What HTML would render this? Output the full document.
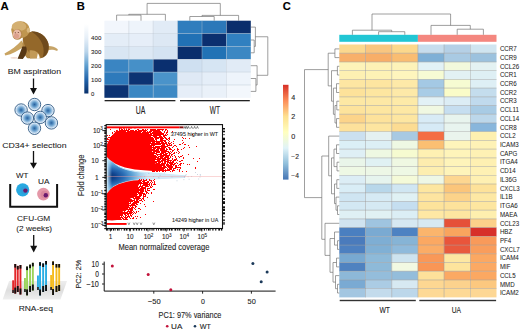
<!DOCTYPE html>
<html><head><meta charset="utf-8"><style>
html,body{margin:0;padding:0;background:#fff;overflow:hidden;width:520px;height:331px;}
svg{display:block;font-family:"Liberation Sans", sans-serif;}
</style></head><body>
<svg width="520" height="331" viewBox="0 0 520 331" font-family='"Liberation Sans", sans-serif'>
<rect width="520" height="331" fill="#fff"/>
<text x="0.6" y="9.7" font-size="11.4" stroke="#000" stroke-width="0.12" font-weight="bold" fill="#000" >A</text>
<g id="monkey">
<path d="M45.5,46.5 C50,45.5 54,46.5 57.8,49.3 L57.3,51 C53,49.3 50,49.5 46,50.8 Z" fill="#c6a468"/>
<path d="M21.5,40.5 C17,45.5 11,50.5 4.5,53.4 L5.3,55.6 C12,54.3 18.5,50.5 24.5,46 Z" fill="#c9a462"/>
<path d="M23,36 C26.5,31 34,30.5 40.5,33.5 C46,36.5 49.2,42.5 48.8,48.5 C48.4,54 45,57.6 40,58.3 L28,58.3 C24,55 22,48 23,36 Z" fill="#94682a"/>
<path d="M31,31.3 C39,31 46,36 48.3,43 C49.5,49 47.5,55 42.5,57.8 C45.5,50 43.5,39 31,31.3 Z" fill="#6f4a1c"/>
<path d="M23.2,40 C24.5,47 28,52.5 34,56 L27.5,58.3 C23.8,55 22.2,48.5 23.2,40 Z" fill="#b08646"/>
<path d="M29.5,50.5 C34.5,49.5 39.5,52.5 40.5,58.3 L30,58.6 Z" fill="#c29a58"/>
<path d="M37.8,53.2 C39,55 39.6,56.8 39.6,58.8 L36.8,58.8 Z" fill="#fff"/>
<path d="M26,46.5 C28,50.5 26.2,55 22.8,59 L17.6,58.8 C19,55.5 21,50.5 22.3,46.5 Z" fill="#563614"/>
<ellipse cx="20.5" cy="29.7" rx="9.3" ry="8.5" fill="#c0964f"/>
<ellipse cx="19" cy="26.4" rx="7.2" ry="4.9" fill="#d4b072"/>
<ellipse cx="28.4" cy="30.2" rx="1.7" ry="2.5" fill="#d8b880"/>
<ellipse cx="17.4" cy="34.4" rx="5" ry="5.4" fill="#b88c4e"/>
<ellipse cx="17" cy="34.3" rx="4.1" ry="4.7" fill="#e9bba5"/>
<ellipse cx="16.4" cy="36" rx="2.6" ry="2.6" fill="#dca08c"/>
<circle cx="15.3" cy="32.7" r="0.55" fill="#5a3020"/>
<circle cx="18.3" cy="32.5" r="0.55" fill="#5a3020"/>
<ellipse cx="14" cy="57.8" rx="3.5" ry="0.9" fill="#e8c8b8" opacity="0.7"/>
</g>
<text x="34.4" y="74" font-size="7.7" stroke="#1a1a1a" stroke-width="0.06" text-anchor="middle" textLength="53.2" lengthAdjust="spacingAndGlyphs" fill="#1a1a1a" >BM aspiration</text>
<line x1="33.5" y1="78.5" x2="33.5" y2="88.5" stroke="#111" stroke-width="1.3"/>
<path d="M30.0,88 L37.0,88 L33.5,94.4 Z" fill="#111"/>
<defs><radialGradient id="cell" cx="50%" cy="50%" r="50%">
<stop offset="0" stop-color="#2a62a0"/><stop offset="0.35" stop-color="#5f98c8"/>
<stop offset="0.7" stop-color="#b2d0ea"/><stop offset="0.87" stop-color="#e2edf8"/><stop offset="1" stop-color="#eef5fb"/></radialGradient></defs>
<circle cx="34.5" cy="104.5" r="6.2" fill="url(#cell)" stroke="#25527e" stroke-width="0.85"/>
<circle cx="21.1" cy="110" r="6.2" fill="url(#cell)" stroke="#25527e" stroke-width="0.85"/>
<circle cx="48" cy="110.6" r="6.2" fill="url(#cell)" stroke="#25527e" stroke-width="0.85"/>
<circle cx="27.4" cy="118.1" r="6.2" fill="url(#cell)" stroke="#25527e" stroke-width="0.85"/>
<circle cx="40.2" cy="117.4" r="6.2" fill="url(#cell)" stroke="#25527e" stroke-width="0.85"/>
<circle cx="51.4" cy="122.9" r="6.2" fill="url(#cell)" stroke="#25527e" stroke-width="0.85"/>
<circle cx="34.5" cy="128.3" r="6.2" fill="url(#cell)" stroke="#25527e" stroke-width="0.85"/>
<text x="34.4" y="148" font-size="7.7" stroke="#1a1a1a" stroke-width="0.06" text-anchor="middle" textLength="64.3" lengthAdjust="spacingAndGlyphs" fill="#1a1a1a" >CD34+ selection</text>
<line x1="33.5" y1="151" x2="33.5" y2="163.2" stroke="#111" stroke-width="1.3"/>
<path d="M30.0,162.7 L37.0,162.7 L33.5,168.8 Z" fill="#111"/>
<text x="22.2" y="177.8" font-size="7.5" stroke="#1a1a1a" stroke-width="0.06" text-anchor="middle" textLength="12.4" lengthAdjust="spacingAndGlyphs" fill="#1a1a1a" >WT</text>
<text x="43.8" y="183.6" font-size="7.5" stroke="#1a1a1a" stroke-width="0.06" text-anchor="middle" textLength="11.5" lengthAdjust="spacingAndGlyphs" fill="#1a1a1a" >UA</text>
<path d="M10.2,184 V206.8 H57.1 V184" fill="none" stroke="#111" stroke-width="2"/>
<circle cx="22.7" cy="189.8" r="6.6" fill="#27a9e1"/>
<circle cx="24.2" cy="190.2" r="3.6" fill="#3b8fd0" opacity="0.5"/>
<circle cx="25.4" cy="190.6" r="2.2" fill="#6a1a6e"/>
<circle cx="43.4" cy="194.1" r="6.3" fill="#e498a8"/>
<circle cx="44.5" cy="194.6" r="3.8" fill="#d27c96" opacity="0.6"/>
<circle cx="45.8" cy="195.2" r="2.2" fill="#6a1a6e"/>
<text x="33.7" y="221.3" font-size="7.5" stroke="#1a1a1a" stroke-width="0.06" text-anchor="middle" textLength="33.2" lengthAdjust="spacingAndGlyphs" fill="#1a1a1a" >CFU-GM</text>
<text x="34.2" y="231.4" font-size="7.5" stroke="#1a1a1a" stroke-width="0.06" text-anchor="middle" textLength="35.8" lengthAdjust="spacingAndGlyphs" fill="#1a1a1a" >(2 weeks)</text>
<line x1="33.7" y1="235" x2="33.7" y2="246.3" stroke="#111" stroke-width="1.3"/>
<path d="M30.200000000000003,245.8 L37.2,245.8 L33.7,252.6 Z" fill="#111"/>
<defs><linearGradient id="plat" x1="0" y1="0" x2="0" y2="1">
<stop offset="0" stop-color="#eeeeee"/><stop offset="0.5" stop-color="#dedede"/><stop offset="1" stop-color="#efefef"/></linearGradient></defs>
<path d="M9.1,281 L67,281 L60.5,299.6 L2.7,299.6 Z" fill="url(#plat)"/>
<rect x="12.2" y="280.3" width="1.9" height="12.7" fill="#e3262a"/>
<rect x="12.2" y="290.0" width="1.9" height="3" fill="#333"/>
<rect x="14.3" y="264" width="1.9" height="29.6" fill="#e3262a"/>
<rect x="14.3" y="264" width="1.9" height="3.6" fill="#111"/>
<rect x="14.3" y="287.6" width="1.9" height="6" fill="#111"/>
<rect x="16.8" y="265.9" width="1.9" height="26.1" fill="#e3262a"/>
<rect x="16.8" y="265.9" width="1.9" height="3.6" fill="#111"/>
<rect x="16.8" y="286.0" width="1.9" height="6" fill="#111"/>
<rect x="19.5" y="265" width="1.9" height="29.5" fill="#e3262a"/>
<rect x="19.5" y="265" width="1.9" height="3.6" fill="#111"/>
<rect x="19.5" y="288.5" width="1.9" height="6" fill="#111"/>
<rect x="24.0" y="278" width="1.9" height="14.0" fill="#9bd35a"/>
<rect x="24.0" y="289.0" width="1.9" height="3" fill="#333"/>
<rect x="26.1" y="266.5" width="1.9" height="28.9" fill="#9bd35a"/>
<rect x="26.1" y="266.5" width="1.9" height="3.6" fill="#111"/>
<rect x="26.1" y="289.4" width="1.9" height="6" fill="#111"/>
<rect x="29.1" y="264.6" width="1.9" height="27.4" fill="#9bd35a"/>
<rect x="29.1" y="264.6" width="1.9" height="3.6" fill="#111"/>
<rect x="29.1" y="286.0" width="1.9" height="6" fill="#111"/>
<rect x="31.9" y="262.8" width="1.9" height="27.7" fill="#9bd35a"/>
<rect x="31.9" y="262.8" width="1.9" height="3.6" fill="#111"/>
<rect x="31.9" y="284.5" width="1.9" height="6" fill="#111"/>
<rect x="37.0" y="275.5" width="1.9" height="14.5" fill="#2aaee4"/>
<rect x="37.0" y="287.0" width="1.9" height="3" fill="#333"/>
<rect x="39.1" y="262.2" width="1.9" height="33.3" fill="#2aaee4"/>
<rect x="39.1" y="262.2" width="1.9" height="3.6" fill="#111"/>
<rect x="39.1" y="289.5" width="1.9" height="6" fill="#111"/>
<rect x="42.2" y="263.4" width="1.9" height="28.6" fill="#2aaee4"/>
<rect x="42.2" y="263.4" width="1.9" height="3.6" fill="#111"/>
<rect x="42.2" y="286.0" width="1.9" height="6" fill="#111"/>
<rect x="45.1" y="261" width="1.9" height="30.0" fill="#2aaee4"/>
<rect x="45.1" y="261" width="1.9" height="3.6" fill="#111"/>
<rect x="45.1" y="285.0" width="1.9" height="6" fill="#111"/>
<rect x="50.2" y="275" width="1.9" height="15.0" fill="#f5bb1d"/>
<rect x="50.2" y="287.0" width="1.9" height="3" fill="#333"/>
<rect x="52.1" y="261.4" width="1.9" height="33.6" fill="#f5bb1d"/>
<rect x="52.1" y="261.4" width="1.9" height="3.6" fill="#111"/>
<rect x="52.1" y="289.0" width="1.9" height="6" fill="#111"/>
<rect x="55.5" y="264" width="1.9" height="28.0" fill="#f5bb1d"/>
<rect x="55.5" y="264" width="1.9" height="3.6" fill="#111"/>
<rect x="55.5" y="286.0" width="1.9" height="6" fill="#111"/>
<rect x="58.2" y="264" width="1.9" height="27.0" fill="#f5bb1d"/>
<rect x="58.2" y="264" width="1.9" height="3.6" fill="#111"/>
<rect x="58.2" y="285.0" width="1.9" height="6" fill="#111"/>
<text x="35.8" y="310.8" font-size="7.5" stroke="#1a1a1a" stroke-width="0.06" text-anchor="middle" textLength="34.3" lengthAdjust="spacingAndGlyphs" fill="#1a1a1a" >RNA-seq</text>
<text x="76.7" y="10" font-size="11.2" stroke="#000" stroke-width="0.12" font-weight="bold" fill="#000" >B</text>
<rect x="104.40" y="20.70" width="24.40" height="12.85" fill="#f2f6fc"/>
<rect x="128.80" y="20.70" width="24.40" height="12.85" fill="#eef4fb"/>
<rect x="153.20" y="20.70" width="24.40" height="12.85" fill="#e1ebf6"/>
<rect x="177.60" y="20.70" width="24.40" height="12.85" fill="#2f7dbd"/>
<rect x="202.00" y="20.70" width="24.40" height="12.85" fill="#2c78b9"/>
<rect x="226.40" y="20.70" width="24.40" height="12.85" fill="#0a2e6c"/>
<rect x="104.40" y="33.55" width="24.40" height="12.85" fill="#e4edf7"/>
<rect x="128.80" y="33.55" width="24.40" height="12.85" fill="#e6eef8"/>
<rect x="153.20" y="33.55" width="24.40" height="12.85" fill="#dde8f4"/>
<rect x="177.60" y="33.55" width="24.40" height="12.85" fill="#2171b5"/>
<rect x="202.00" y="33.55" width="24.40" height="12.85" fill="#0b2f6f"/>
<rect x="226.40" y="33.55" width="24.40" height="12.85" fill="#3080c0"/>
<rect x="104.40" y="46.40" width="24.40" height="12.85" fill="#d9e6f3"/>
<rect x="128.80" y="46.40" width="24.40" height="12.85" fill="#dce8f4"/>
<rect x="153.20" y="46.40" width="24.40" height="12.85" fill="#d4e3f2"/>
<rect x="177.60" y="46.40" width="24.40" height="12.85" fill="#0a2e6c"/>
<rect x="202.00" y="46.40" width="24.40" height="12.85" fill="#2172b5"/>
<rect x="226.40" y="46.40" width="24.40" height="12.85" fill="#3b87c3"/>
<rect x="104.40" y="59.25" width="24.40" height="12.85" fill="#3a85c2"/>
<rect x="128.80" y="59.25" width="24.40" height="12.85" fill="#4690c8"/>
<rect x="153.20" y="59.25" width="24.40" height="12.85" fill="#0a2f6f"/>
<rect x="177.60" y="59.25" width="24.40" height="12.85" fill="#cfe0f1"/>
<rect x="202.00" y="59.25" width="24.40" height="12.85" fill="#d6e5f3"/>
<rect x="226.40" y="59.25" width="24.40" height="12.85" fill="#e1ebf6"/>
<rect x="104.40" y="72.10" width="24.40" height="12.85" fill="#2e7abb"/>
<rect x="128.80" y="72.10" width="24.40" height="12.85" fill="#0c3373"/>
<rect x="153.20" y="72.10" width="24.40" height="12.85" fill="#4a93ca"/>
<rect x="177.60" y="72.10" width="24.40" height="12.85" fill="#dfe9f5"/>
<rect x="202.00" y="72.10" width="24.40" height="12.85" fill="#e5eef8"/>
<rect x="226.40" y="72.10" width="24.40" height="12.85" fill="#eef4fb"/>
<rect x="104.40" y="84.95" width="24.40" height="12.85" fill="#0c3373"/>
<rect x="128.80" y="84.95" width="24.40" height="12.85" fill="#3a87c3"/>
<rect x="153.20" y="84.95" width="24.40" height="12.85" fill="#3d89c4"/>
<rect x="177.60" y="84.95" width="24.40" height="12.85" fill="#e6eef8"/>
<rect x="202.00" y="84.95" width="24.40" height="12.85" fill="#eaf1f9"/>
<rect x="226.40" y="84.95" width="24.40" height="12.85" fill="#f3f7fc"/>
<line x1="128.80" y1="20.7" x2="128.80" y2="97.80" stroke="#b8c4d0" stroke-width="0.5" opacity="0.8"/>
<line x1="153.20" y1="20.7" x2="153.20" y2="97.80" stroke="#b8c4d0" stroke-width="0.5" opacity="0.8"/>
<line x1="177.60" y1="20.7" x2="177.60" y2="97.80" stroke="#b8c4d0" stroke-width="0.5" opacity="0.8"/>
<line x1="202.00" y1="20.7" x2="202.00" y2="97.80" stroke="#b8c4d0" stroke-width="0.5" opacity="0.8"/>
<line x1="226.40" y1="20.7" x2="226.40" y2="97.80" stroke="#b8c4d0" stroke-width="0.5" opacity="0.8"/>
<line x1="104.4" y1="33.55" x2="250.80" y2="33.55" stroke="#b8c4d0" stroke-width="0.5" opacity="0.8"/>
<line x1="104.4" y1="46.40" x2="250.80" y2="46.40" stroke="#b8c4d0" stroke-width="0.5" opacity="0.8"/>
<line x1="104.4" y1="59.25" x2="250.80" y2="59.25" stroke="#b8c4d0" stroke-width="0.5" opacity="0.8"/>
<line x1="104.4" y1="72.10" x2="250.80" y2="72.10" stroke="#b8c4d0" stroke-width="0.5" opacity="0.8"/>
<line x1="104.4" y1="84.95" x2="250.80" y2="84.95" stroke="#b8c4d0" stroke-width="0.5" opacity="0.8"/>
<defs><linearGradient id="blues" x1="0" y1="0" x2="0" y2="1">
<stop offset="0" stop-color="#ffffff"/><stop offset="0.2" stop-color="#e6eff8"/><stop offset="0.4" stop-color="#b9d4ea"/>
<stop offset="0.6" stop-color="#5e9fd0"/><stop offset="0.8" stop-color="#2264ab"/><stop offset="1" stop-color="#08306b"/></linearGradient></defs>
<rect x="84.3" y="24" width="4.1" height="69.5" fill="url(#blues)"/>
<text x="91.1" y="39.6" font-size="6.0" stroke="#262626" stroke-width="0.09" textLength="10.2" lengthAdjust="spacingAndGlyphs" fill="#262626" >400</text>
<text x="91.1" y="53.6" font-size="6.0" stroke="#262626" stroke-width="0.09" textLength="10.2" lengthAdjust="spacingAndGlyphs" fill="#262626" >300</text>
<text x="91.1" y="68.3" font-size="6.0" stroke="#262626" stroke-width="0.09" textLength="10.2" lengthAdjust="spacingAndGlyphs" fill="#262626" >200</text>
<text x="91.1" y="82.1" font-size="6.0" stroke="#262626" stroke-width="0.09" textLength="10.2" lengthAdjust="spacingAndGlyphs" fill="#262626" >100</text>
<text x="91.1" y="96" font-size="6.0" stroke="#262626" stroke-width="0.09" textLength="3.3" lengthAdjust="spacingAndGlyphs" fill="#262626" >0</text>
<path d="M116.6,20.7 V15.1 H141 V20.7 M128.8,15.1 V14.3 H165.4 V20.7 M147.1,14.3 V3.4 H220.3 V15.4 M189.8,20.7 V16.5 H214.2 V20.7 M202,16.5 V15.4 H238.6 V20.7" fill="none" stroke="#6a6a6a" stroke-width="0.65"/>
<path d="M250.8,40 H254.2 V52.8 H250.8 M250.8,27.1 H255.4 V46.4 H254.2 M250.8,78.5 H255.9 V91.4 H250.8 M250.8,65.7 H257.1 V85 H255.9 M255.4,36.75 H267.8 V75.3 H257.1" fill="none" stroke="#6a6a6a" stroke-width="0.65"/>
<rect x="104.6" y="100" width="70.8" height="1.3" fill="#222"/>
<rect x="180" y="100" width="69.8" height="1.3" fill="#222"/>
<text x="140.5" y="113.9" font-size="10" stroke="#222" stroke-width="0.12" text-anchor="middle" textLength="9.6" lengthAdjust="spacingAndGlyphs" fill="#222" >UA</text>
<text x="214.8" y="113.6" font-size="10" stroke="#222" stroke-width="0.12" text-anchor="middle" textLength="10.2" lengthAdjust="spacingAndGlyphs" fill="#222" >WT</text>
<g id="ma">
<defs><radialGradient id="fun" cx="108" cy="176.3" r="40" gradientUnits="userSpaceOnUse" gradientTransform="translate(108 176.3) scale(1 0.5) translate(-108 -176.3)">
<stop offset="0" stop-color="#08306b"/><stop offset="0.2" stop-color="#124691"/><stop offset="0.4" stop-color="#2a6db5"/><stop offset="0.6" stop-color="#5a9fd4"/>
<stop offset="0.8" stop-color="#a2cfec"/><stop offset="1" stop-color="#d4eaf7"/></radialGradient>
<linearGradient id="funv" x1="107" y1="0" x2="112" y2="0" gradientUnits="userSpaceOnUse">
<stop offset="0" stop-color="#c8e8f8" stop-opacity="0.9"/><stop offset="1" stop-color="#c8e8f8" stop-opacity="0"/></linearGradient></defs>
<path d="M107,156 L110,159.5 L113,162 L116,164.5 L119,166.6 L123,168.3 L126.7,169.6 L133.5,171.1 L140,172 L150,172.8 L160,173.6 L172,174.8 L185,175.8 L185,177.4 L172,178 L160,178.6 L150,179.2 L140,179.8 L133.5,180.4 L126.7,181.7 L119,184 L113,187 L110,189.8 L107,193.8 Z" fill="url(#fun)"/>
<path d="M107,156 L110,159.5 L113,162 L116,164.5 L119,166.6 L123,168.3 L126.7,169.6 L133.5,171.1 L140,172 L150,172.8 L160,173.6 L172,174.8 L185,175.8 L185,177.4 L172,178 L160,178.6 L150,179.2 L140,179.8 L133.5,180.4 L126.7,181.7 L119,184 L113,187 L110,189.8 L107,193.8 Z" fill="url(#funv)" stroke="#cfe9f7" stroke-width="1"/>
<path d="M121.0,128.3 L145.3,129.0 L146.2,132.0 L147.1,135.0 L148.0,138.0 L148.9,141.0 L149.8,144.0 L150.7,147.0 L151.6,150.0 L152.5,153.0 L153.4,156.0 L154.3,159.0 L155.2,162.0 L156.1,165.0 L155.8,168.0 L155.2,171.2 L150.0,170.8 L134.8,169.4 L125.0,167.6 L119.4,165.5 L115.0,163.5 L110.0,160.0 L106.5,156.5 L106.5,146.0 L108.0,142.0 L110.0,138.5 L113.0,134.5 L116.0,131.2 L118.5,129.3 Z" fill="#ff0000"/>
<path d="M106.5,194.0 L110.0,189.8 L113.0,187.0 L119.0,184.0 L126.7,181.7 L133.5,180.6 L138.0,180.3 L140.0,182.0 L138.7,185.0 L136.9,188.0 L135.1,191.0 L133.3,194.0 L131.5,197.0 L129.7,200.0 L127.9,203.0 L126.1,206.0 L124.3,209.0 L122.5,212.0 L120.7,215.0 L118.9,218.0 L117.0,220.0 L112.0,220.5 L106.5,220.0 Z" fill="#ff0000"/>
<path fill="#ff0000" shape-rendering="crispEdges" d="M107 135h1v1h-1zM107 138h1v1h-1zM107 139h1v1h-1zM107 141h1v1h-1zM107 144h1v1h-1zM108 137h1v1h-1zM108 139h1v1h-1zM108 142h1v1h-1zM109 135h1v1h-1zM109 137h1v1h-1zM109 140h1v1h-1zM109 141h1v1h-1zM110 129h1v1h-1zM110 137h1v1h-1zM110 138h1v1h-1zM110 140h1v1h-1zM111 136h1v1h-1zM111 138h1v1h-1zM111 139h1v1h-1zM112 132h1v1h-1zM112 133h1v1h-1zM112 135h1v1h-1zM112 137h1v1h-1zM113 136h1v1h-1zM113 137h1v1h-1zM114 131h1v1h-1zM114 135h1v1h-1zM115 132h1v1h-1zM115 133h1v1h-1zM115 134h1v1h-1zM115 218h1v1h-1zM115 219h1v1h-1zM116 130h1v1h-1zM116 133h1v1h-1zM116 217h1v1h-1zM116 218h1v1h-1zM116 219h1v1h-1zM117 215h1v1h-1zM117 216h1v1h-1zM117 217h1v1h-1zM117 218h1v1h-1zM117 219h1v1h-1zM118 130h1v1h-1zM118 214h1v1h-1zM118 215h1v1h-1zM118 216h1v1h-1zM118 217h1v1h-1zM118 218h1v1h-1zM118 219h1v1h-1zM119 128h1v1h-1zM119 211h1v1h-1zM119 212h1v1h-1zM119 214h1v1h-1zM119 215h1v1h-1zM119 216h1v1h-1zM119 217h1v1h-1zM119 218h1v1h-1zM119 219h1v1h-1zM120 210h1v1h-1zM120 211h1v1h-1zM120 213h1v1h-1zM120 214h1v1h-1zM120 215h1v1h-1zM120 217h1v1h-1zM120 218h1v1h-1zM120 219h1v1h-1zM121 208h1v1h-1zM121 209h1v1h-1zM121 210h1v1h-1zM121 211h1v1h-1zM121 212h1v1h-1zM121 213h1v1h-1zM121 214h1v1h-1zM121 215h1v1h-1zM121 216h1v1h-1zM121 217h1v1h-1zM121 219h1v1h-1zM122 206h1v1h-1zM122 207h1v1h-1zM122 208h1v1h-1zM122 209h1v1h-1zM122 210h1v1h-1zM122 212h1v1h-1zM122 213h1v1h-1zM122 214h1v1h-1zM122 215h1v1h-1zM122 217h1v1h-1zM122 218h1v1h-1zM123 205h1v1h-1zM123 206h1v1h-1zM123 207h1v1h-1zM123 208h1v1h-1zM123 209h1v1h-1zM123 210h1v1h-1zM123 212h1v1h-1zM123 213h1v1h-1zM123 216h1v1h-1zM123 218h1v1h-1zM123 219h1v1h-1zM124 203h1v1h-1zM124 204h1v1h-1zM124 205h1v1h-1zM124 206h1v1h-1zM124 207h1v1h-1zM124 208h1v1h-1zM124 209h1v1h-1zM124 210h1v1h-1zM124 211h1v1h-1zM124 212h1v1h-1zM124 213h1v1h-1zM124 214h1v1h-1zM124 217h1v1h-1zM124 219h1v1h-1zM125 202h1v1h-1zM125 203h1v1h-1zM125 206h1v1h-1zM125 207h1v1h-1zM125 208h1v1h-1zM125 209h1v1h-1zM125 210h1v1h-1zM125 212h1v1h-1zM125 213h1v1h-1zM125 214h1v1h-1zM125 215h1v1h-1zM125 216h1v1h-1zM125 217h1v1h-1zM125 218h1v1h-1zM125 219h1v1h-1zM126 200h1v1h-1zM126 201h1v1h-1zM126 202h1v1h-1zM126 203h1v1h-1zM126 204h1v1h-1zM126 205h1v1h-1zM126 206h1v1h-1zM126 207h1v1h-1zM126 208h1v1h-1zM126 209h1v1h-1zM126 212h1v1h-1zM126 213h1v1h-1zM126 215h1v1h-1zM126 217h1v1h-1zM126 218h1v1h-1zM126 219h1v1h-1zM127 198h1v1h-1zM127 199h1v1h-1zM127 200h1v1h-1zM127 201h1v1h-1zM127 202h1v1h-1zM127 203h1v1h-1zM127 204h1v1h-1zM127 205h1v1h-1zM127 206h1v1h-1zM127 207h1v1h-1zM127 208h1v1h-1zM127 209h1v1h-1zM127 211h1v1h-1zM127 212h1v1h-1zM127 213h1v1h-1zM127 214h1v1h-1zM127 216h1v1h-1zM127 217h1v1h-1zM127 219h1v1h-1zM128 196h1v1h-1zM128 197h1v1h-1zM128 198h1v1h-1zM128 199h1v1h-1zM128 200h1v1h-1zM128 201h1v1h-1zM128 202h1v1h-1zM128 203h1v1h-1zM128 204h1v1h-1zM128 205h1v1h-1zM128 206h1v1h-1zM128 207h1v1h-1zM128 209h1v1h-1zM128 210h1v1h-1zM128 211h1v1h-1zM128 213h1v1h-1zM128 214h1v1h-1zM128 215h1v1h-1zM128 216h1v1h-1zM129 194h1v1h-1zM129 195h1v1h-1zM129 196h1v1h-1zM129 197h1v1h-1zM129 198h1v1h-1zM129 199h1v1h-1zM129 200h1v1h-1zM129 201h1v1h-1zM129 203h1v1h-1zM129 205h1v1h-1zM129 207h1v1h-1zM129 208h1v1h-1zM129 209h1v1h-1zM129 211h1v1h-1zM129 212h1v1h-1zM129 213h1v1h-1zM129 216h1v1h-1zM129 217h1v1h-1zM130 193h1v1h-1zM130 194h1v1h-1zM130 195h1v1h-1zM130 196h1v1h-1zM130 197h1v1h-1zM130 199h1v1h-1zM130 200h1v1h-1zM130 201h1v1h-1zM130 202h1v1h-1zM130 203h1v1h-1zM130 205h1v1h-1zM130 206h1v1h-1zM130 208h1v1h-1zM130 209h1v1h-1zM130 210h1v1h-1zM130 211h1v1h-1zM130 212h1v1h-1zM130 213h1v1h-1zM130 214h1v1h-1zM130 215h1v1h-1zM130 218h1v1h-1zM131 192h1v1h-1zM131 193h1v1h-1zM131 194h1v1h-1zM131 195h1v1h-1zM131 196h1v1h-1zM131 197h1v1h-1zM131 199h1v1h-1zM131 200h1v1h-1zM131 201h1v1h-1zM131 204h1v1h-1zM131 205h1v1h-1zM131 207h1v1h-1zM131 208h1v1h-1zM131 209h1v1h-1zM131 210h1v1h-1zM131 211h1v1h-1zM131 212h1v1h-1zM131 213h1v1h-1zM131 215h1v1h-1zM131 216h1v1h-1zM132 190h1v1h-1zM132 191h1v1h-1zM132 192h1v1h-1zM132 194h1v1h-1zM132 195h1v1h-1zM132 196h1v1h-1zM132 197h1v1h-1zM132 200h1v1h-1zM132 201h1v1h-1zM132 203h1v1h-1zM132 204h1v1h-1zM132 205h1v1h-1zM132 206h1v1h-1zM132 207h1v1h-1zM132 208h1v1h-1zM132 209h1v1h-1zM132 210h1v1h-1zM132 212h1v1h-1zM132 214h1v1h-1zM132 218h1v1h-1zM133 188h1v1h-1zM133 189h1v1h-1zM133 190h1v1h-1zM133 191h1v1h-1zM133 193h1v1h-1zM133 194h1v1h-1zM133 195h1v1h-1zM133 196h1v1h-1zM133 197h1v1h-1zM133 198h1v1h-1zM133 200h1v1h-1zM133 202h1v1h-1zM133 203h1v1h-1zM133 204h1v1h-1zM133 205h1v1h-1zM133 207h1v1h-1zM133 211h1v1h-1zM133 213h1v1h-1zM133 217h1v1h-1zM133 218h1v1h-1zM134 186h1v1h-1zM134 187h1v1h-1zM134 188h1v1h-1zM134 189h1v1h-1zM134 190h1v1h-1zM134 191h1v1h-1zM134 192h1v1h-1zM134 193h1v1h-1zM134 194h1v1h-1zM134 195h1v1h-1zM134 196h1v1h-1zM134 198h1v1h-1zM134 199h1v1h-1zM134 200h1v1h-1zM134 201h1v1h-1zM134 202h1v1h-1zM134 203h1v1h-1zM134 204h1v1h-1zM134 205h1v1h-1zM134 208h1v1h-1zM134 212h1v1h-1zM135 185h1v1h-1zM135 186h1v1h-1zM135 187h1v1h-1zM135 188h1v1h-1zM135 189h1v1h-1zM135 190h1v1h-1zM135 191h1v1h-1zM135 192h1v1h-1zM135 193h1v1h-1zM135 194h1v1h-1zM135 195h1v1h-1zM135 196h1v1h-1zM135 197h1v1h-1zM135 198h1v1h-1zM135 201h1v1h-1zM135 202h1v1h-1zM135 203h1v1h-1zM135 205h1v1h-1zM135 206h1v1h-1zM135 207h1v1h-1zM135 209h1v1h-1zM135 213h1v1h-1zM135 216h1v1h-1zM136 183h1v1h-1zM136 184h1v1h-1zM136 185h1v1h-1zM136 188h1v1h-1zM136 189h1v1h-1zM136 190h1v1h-1zM136 191h1v1h-1zM136 192h1v1h-1zM136 193h1v1h-1zM136 194h1v1h-1zM136 195h1v1h-1zM136 196h1v1h-1zM136 197h1v1h-1zM136 198h1v1h-1zM136 199h1v1h-1zM136 200h1v1h-1zM136 201h1v1h-1zM136 202h1v1h-1zM136 203h1v1h-1zM136 204h1v1h-1zM136 206h1v1h-1zM136 211h1v1h-1zM136 212h1v1h-1zM136 218h1v1h-1zM137 181h1v1h-1zM137 182h1v1h-1zM137 183h1v1h-1zM137 184h1v1h-1zM137 185h1v1h-1zM137 186h1v1h-1zM137 187h1v1h-1zM137 188h1v1h-1zM137 189h1v1h-1zM137 190h1v1h-1zM137 191h1v1h-1zM137 192h1v1h-1zM137 194h1v1h-1zM137 196h1v1h-1zM137 197h1v1h-1zM137 198h1v1h-1zM137 199h1v1h-1zM137 200h1v1h-1zM137 201h1v1h-1zM137 202h1v1h-1zM137 204h1v1h-1zM137 216h1v1h-1zM138 180h1v1h-1zM138 181h1v1h-1zM138 182h1v1h-1zM138 183h1v1h-1zM138 184h1v1h-1zM138 187h1v1h-1zM138 188h1v1h-1zM138 189h1v1h-1zM138 190h1v1h-1zM138 191h1v1h-1zM138 192h1v1h-1zM138 193h1v1h-1zM138 196h1v1h-1zM138 197h1v1h-1zM138 198h1v1h-1zM138 199h1v1h-1zM138 201h1v1h-1zM138 202h1v1h-1zM138 208h1v1h-1zM138 211h1v1h-1zM139 179h1v1h-1zM139 180h1v1h-1zM139 181h1v1h-1zM139 182h1v1h-1zM139 183h1v1h-1zM139 186h1v1h-1zM139 187h1v1h-1zM139 189h1v1h-1zM139 190h1v1h-1zM139 192h1v1h-1zM139 193h1v1h-1zM139 194h1v1h-1zM139 195h1v1h-1zM139 196h1v1h-1zM139 197h1v1h-1zM139 198h1v1h-1zM139 200h1v1h-1zM139 208h1v1h-1zM140 180h1v1h-1zM140 181h1v1h-1zM140 182h1v1h-1zM140 183h1v1h-1zM140 184h1v1h-1zM140 185h1v1h-1zM140 186h1v1h-1zM140 188h1v1h-1zM140 189h1v1h-1zM140 190h1v1h-1zM140 191h1v1h-1zM140 192h1v1h-1zM140 193h1v1h-1zM140 194h1v1h-1zM140 195h1v1h-1zM140 196h1v1h-1zM140 198h1v1h-1zM140 200h1v1h-1zM140 203h1v1h-1zM140 209h1v1h-1zM140 217h1v1h-1zM141 179h1v1h-1zM141 180h1v1h-1zM141 182h1v1h-1zM141 183h1v1h-1zM141 186h1v1h-1zM141 187h1v1h-1zM141 188h1v1h-1zM141 189h1v1h-1zM141 190h1v1h-1zM141 191h1v1h-1zM141 192h1v1h-1zM141 193h1v1h-1zM141 194h1v1h-1zM141 195h1v1h-1zM141 199h1v1h-1zM141 200h1v1h-1zM142 131h1v1h-1zM142 181h1v1h-1zM142 183h1v1h-1zM142 185h1v1h-1zM142 186h1v1h-1zM142 187h1v1h-1zM142 188h1v1h-1zM142 189h1v1h-1zM142 190h1v1h-1zM142 191h1v1h-1zM142 192h1v1h-1zM142 193h1v1h-1zM142 198h1v1h-1zM142 201h1v1h-1zM143 129h1v1h-1zM143 130h1v1h-1zM143 131h1v1h-1zM143 133h1v1h-1zM143 179h1v1h-1zM143 180h1v1h-1zM143 181h1v1h-1zM143 182h1v1h-1zM143 183h1v1h-1zM143 184h1v1h-1zM143 185h1v1h-1zM143 187h1v1h-1zM143 188h1v1h-1zM143 189h1v1h-1zM143 190h1v1h-1zM143 191h1v1h-1zM143 193h1v1h-1zM143 194h1v1h-1zM143 195h1v1h-1zM143 196h1v1h-1zM143 197h1v1h-1zM143 198h1v1h-1zM143 199h1v1h-1zM144 129h1v1h-1zM144 130h1v1h-1zM144 131h1v1h-1zM144 132h1v1h-1zM144 133h1v1h-1zM144 134h1v1h-1zM144 135h1v1h-1zM144 136h1v1h-1zM144 137h1v1h-1zM144 180h1v1h-1zM144 181h1v1h-1zM144 182h1v1h-1zM144 183h1v1h-1zM144 184h1v1h-1zM144 185h1v1h-1zM144 187h1v1h-1zM144 188h1v1h-1zM144 193h1v1h-1zM144 194h1v1h-1zM144 196h1v1h-1zM144 200h1v1h-1zM144 204h1v1h-1zM145 129h1v1h-1zM145 130h1v1h-1zM145 131h1v1h-1zM145 132h1v1h-1zM145 134h1v1h-1zM145 135h1v1h-1zM145 136h1v1h-1zM145 137h1v1h-1zM145 138h1v1h-1zM145 139h1v1h-1zM145 140h1v1h-1zM145 180h1v1h-1zM145 182h1v1h-1zM145 183h1v1h-1zM145 184h1v1h-1zM145 185h1v1h-1zM145 186h1v1h-1zM145 187h1v1h-1zM145 188h1v1h-1zM145 189h1v1h-1zM145 190h1v1h-1zM145 191h1v1h-1zM145 194h1v1h-1zM145 195h1v1h-1zM145 196h1v1h-1zM145 206h1v1h-1zM145 214h1v1h-1zM146 129h1v1h-1zM146 130h1v1h-1zM146 132h1v1h-1zM146 133h1v1h-1zM146 134h1v1h-1zM146 135h1v1h-1zM146 136h1v1h-1zM146 137h1v1h-1zM146 138h1v1h-1zM146 139h1v1h-1zM146 140h1v1h-1zM146 141h1v1h-1zM146 142h1v1h-1zM146 143h1v1h-1zM146 144h1v1h-1zM146 179h1v1h-1zM146 180h1v1h-1zM146 182h1v1h-1zM146 183h1v1h-1zM146 184h1v1h-1zM146 185h1v1h-1zM146 186h1v1h-1zM146 191h1v1h-1zM146 192h1v1h-1zM146 193h1v1h-1zM147 129h1v1h-1zM147 130h1v1h-1zM147 131h1v1h-1zM147 132h1v1h-1zM147 133h1v1h-1zM147 134h1v1h-1zM147 135h1v1h-1zM147 136h1v1h-1zM147 137h1v1h-1zM147 138h1v1h-1zM147 139h1v1h-1zM147 140h1v1h-1zM147 141h1v1h-1zM147 142h1v1h-1zM147 143h1v1h-1zM147 144h1v1h-1zM147 145h1v1h-1zM147 146h1v1h-1zM147 147h1v1h-1zM147 181h1v1h-1zM147 182h1v1h-1zM147 183h1v1h-1zM147 184h1v1h-1zM147 185h1v1h-1zM147 186h1v1h-1zM147 188h1v1h-1zM147 189h1v1h-1zM147 190h1v1h-1zM147 192h1v1h-1zM147 197h1v1h-1zM148 129h1v1h-1zM148 130h1v1h-1zM148 131h1v1h-1zM148 132h1v1h-1zM148 133h1v1h-1zM148 134h1v1h-1zM148 135h1v1h-1zM148 136h1v1h-1zM148 137h1v1h-1zM148 138h1v1h-1zM148 139h1v1h-1zM148 140h1v1h-1zM148 141h1v1h-1zM148 142h1v1h-1zM148 143h1v1h-1zM148 144h1v1h-1zM148 145h1v1h-1zM148 146h1v1h-1zM148 147h1v1h-1zM148 148h1v1h-1zM148 181h1v1h-1zM148 182h1v1h-1zM148 184h1v1h-1zM148 186h1v1h-1zM148 188h1v1h-1zM148 190h1v1h-1zM148 193h1v1h-1zM149 129h1v1h-1zM149 131h1v1h-1zM149 132h1v1h-1zM149 134h1v1h-1zM149 135h1v1h-1zM149 136h1v1h-1zM149 137h1v1h-1zM149 138h1v1h-1zM149 139h1v1h-1zM149 140h1v1h-1zM149 141h1v1h-1zM149 142h1v1h-1zM149 143h1v1h-1zM149 144h1v1h-1zM149 145h1v1h-1zM149 147h1v1h-1zM149 148h1v1h-1zM149 149h1v1h-1zM149 150h1v1h-1zM149 151h1v1h-1zM149 152h1v1h-1zM149 153h1v1h-1zM149 179h1v1h-1zM149 180h1v1h-1zM149 183h1v1h-1zM149 184h1v1h-1zM149 185h1v1h-1zM149 188h1v1h-1zM149 190h1v1h-1zM150 129h1v1h-1zM150 130h1v1h-1zM150 131h1v1h-1zM150 132h1v1h-1zM150 133h1v1h-1zM150 134h1v1h-1zM150 135h1v1h-1zM150 136h1v1h-1zM150 137h1v1h-1zM150 138h1v1h-1zM150 139h1v1h-1zM150 140h1v1h-1zM150 141h1v1h-1zM150 142h1v1h-1zM150 143h1v1h-1zM150 145h1v1h-1zM150 146h1v1h-1zM150 147h1v1h-1zM150 148h1v1h-1zM150 149h1v1h-1zM150 150h1v1h-1zM150 151h1v1h-1zM150 152h1v1h-1zM150 153h1v1h-1zM150 154h1v1h-1zM150 155h1v1h-1zM150 156h1v1h-1zM150 157h1v1h-1zM150 180h1v1h-1zM150 182h1v1h-1zM150 186h1v1h-1zM150 187h1v1h-1zM151 129h1v1h-1zM151 130h1v1h-1zM151 131h1v1h-1zM151 133h1v1h-1zM151 134h1v1h-1zM151 135h1v1h-1zM151 137h1v1h-1zM151 138h1v1h-1zM151 139h1v1h-1zM151 140h1v1h-1zM151 141h1v1h-1zM151 143h1v1h-1zM151 144h1v1h-1zM151 145h1v1h-1zM151 146h1v1h-1zM151 147h1v1h-1zM151 148h1v1h-1zM151 149h1v1h-1zM151 150h1v1h-1zM151 152h1v1h-1zM151 153h1v1h-1zM151 154h1v1h-1zM151 155h1v1h-1zM151 156h1v1h-1zM151 157h1v1h-1zM151 158h1v1h-1zM151 159h1v1h-1zM151 180h1v1h-1zM151 181h1v1h-1zM151 183h1v1h-1zM151 184h1v1h-1zM151 185h1v1h-1zM151 187h1v1h-1zM151 192h1v1h-1zM151 193h1v1h-1zM152 129h1v1h-1zM152 130h1v1h-1zM152 132h1v1h-1zM152 133h1v1h-1zM152 135h1v1h-1zM152 137h1v1h-1zM152 138h1v1h-1zM152 139h1v1h-1zM152 140h1v1h-1zM152 141h1v1h-1zM152 142h1v1h-1zM152 143h1v1h-1zM152 144h1v1h-1zM152 145h1v1h-1zM152 147h1v1h-1zM152 149h1v1h-1zM152 150h1v1h-1zM152 152h1v1h-1zM152 153h1v1h-1zM152 154h1v1h-1zM152 155h1v1h-1zM152 157h1v1h-1zM152 158h1v1h-1zM152 159h1v1h-1zM152 160h1v1h-1zM152 161h1v1h-1zM152 162h1v1h-1zM152 163h1v1h-1zM152 164h1v1h-1zM152 168h1v1h-1zM152 169h1v1h-1zM152 170h1v1h-1zM152 171h1v1h-1zM152 182h1v1h-1zM152 186h1v1h-1zM153 129h1v1h-1zM153 130h1v1h-1zM153 131h1v1h-1zM153 132h1v1h-1zM153 133h1v1h-1zM153 134h1v1h-1zM153 135h1v1h-1zM153 136h1v1h-1zM153 138h1v1h-1zM153 139h1v1h-1zM153 140h1v1h-1zM153 141h1v1h-1zM153 142h1v1h-1zM153 143h1v1h-1zM153 144h1v1h-1zM153 145h1v1h-1zM153 146h1v1h-1zM153 147h1v1h-1zM153 148h1v1h-1zM153 149h1v1h-1zM153 150h1v1h-1zM153 151h1v1h-1zM153 152h1v1h-1zM153 153h1v1h-1zM153 154h1v1h-1zM153 155h1v1h-1zM153 156h1v1h-1zM153 157h1v1h-1zM153 158h1v1h-1zM153 159h1v1h-1zM153 160h1v1h-1zM153 161h1v1h-1zM153 162h1v1h-1zM153 163h1v1h-1zM153 164h1v1h-1zM153 165h1v1h-1zM153 166h1v1h-1zM153 167h1v1h-1zM153 168h1v1h-1zM153 169h1v1h-1zM153 170h1v1h-1zM153 171h1v1h-1zM153 180h1v1h-1zM153 184h1v1h-1zM153 189h1v1h-1zM153 201h1v1h-1zM154 129h1v1h-1zM154 130h1v1h-1zM154 131h1v1h-1zM154 132h1v1h-1zM154 133h1v1h-1zM154 134h1v1h-1zM154 135h1v1h-1zM154 136h1v1h-1zM154 137h1v1h-1zM154 140h1v1h-1zM154 141h1v1h-1zM154 142h1v1h-1zM154 143h1v1h-1zM154 144h1v1h-1zM154 145h1v1h-1zM154 147h1v1h-1zM154 148h1v1h-1zM154 149h1v1h-1zM154 150h1v1h-1zM154 151h1v1h-1zM154 152h1v1h-1zM154 153h1v1h-1zM154 155h1v1h-1zM154 156h1v1h-1zM154 157h1v1h-1zM154 158h1v1h-1zM154 159h1v1h-1zM154 160h1v1h-1zM154 161h1v1h-1zM154 162h1v1h-1zM154 163h1v1h-1zM154 164h1v1h-1zM154 166h1v1h-1zM154 167h1v1h-1zM154 168h1v1h-1zM154 169h1v1h-1zM154 170h1v1h-1zM154 171h1v1h-1zM154 179h1v1h-1zM154 181h1v1h-1zM154 182h1v1h-1zM154 183h1v1h-1zM154 184h1v1h-1zM154 189h1v1h-1zM155 129h1v1h-1zM155 130h1v1h-1zM155 131h1v1h-1zM155 132h1v1h-1zM155 133h1v1h-1zM155 134h1v1h-1zM155 135h1v1h-1zM155 136h1v1h-1zM155 137h1v1h-1zM155 138h1v1h-1zM155 139h1v1h-1zM155 141h1v1h-1zM155 143h1v1h-1zM155 144h1v1h-1zM155 146h1v1h-1zM155 147h1v1h-1zM155 148h1v1h-1zM155 150h1v1h-1zM155 151h1v1h-1zM155 153h1v1h-1zM155 155h1v1h-1zM155 156h1v1h-1zM155 157h1v1h-1zM155 158h1v1h-1zM155 159h1v1h-1zM155 161h1v1h-1zM155 162h1v1h-1zM155 164h1v1h-1zM155 166h1v1h-1zM155 167h1v1h-1zM155 168h1v1h-1zM155 169h1v1h-1zM155 170h1v1h-1zM155 184h1v1h-1zM156 130h1v1h-1zM156 131h1v1h-1zM156 132h1v1h-1zM156 133h1v1h-1zM156 134h1v1h-1zM156 135h1v1h-1zM156 136h1v1h-1zM156 137h1v1h-1zM156 138h1v1h-1zM156 139h1v1h-1zM156 140h1v1h-1zM156 141h1v1h-1zM156 142h1v1h-1zM156 143h1v1h-1zM156 144h1v1h-1zM156 146h1v1h-1zM156 147h1v1h-1zM156 149h1v1h-1zM156 150h1v1h-1zM156 151h1v1h-1zM156 152h1v1h-1zM156 153h1v1h-1zM156 154h1v1h-1zM156 156h1v1h-1zM156 157h1v1h-1zM156 159h1v1h-1zM156 161h1v1h-1zM156 162h1v1h-1zM156 163h1v1h-1zM156 164h1v1h-1zM156 165h1v1h-1zM156 166h1v1h-1zM156 167h1v1h-1zM156 168h1v1h-1zM156 169h1v1h-1zM156 170h1v1h-1zM156 171h1v1h-1zM157 129h1v1h-1zM157 130h1v1h-1zM157 131h1v1h-1zM157 132h1v1h-1zM157 133h1v1h-1zM157 134h1v1h-1zM157 135h1v1h-1zM157 137h1v1h-1zM157 138h1v1h-1zM157 141h1v1h-1zM157 142h1v1h-1zM157 143h1v1h-1zM157 144h1v1h-1zM157 146h1v1h-1zM157 147h1v1h-1zM157 148h1v1h-1zM157 149h1v1h-1zM157 150h1v1h-1zM157 151h1v1h-1zM157 152h1v1h-1zM157 154h1v1h-1zM157 155h1v1h-1zM157 157h1v1h-1zM157 158h1v1h-1zM157 159h1v1h-1zM157 160h1v1h-1zM157 161h1v1h-1zM157 163h1v1h-1zM157 164h1v1h-1zM157 165h1v1h-1zM157 166h1v1h-1zM157 167h1v1h-1zM157 168h1v1h-1zM157 169h1v1h-1zM157 170h1v1h-1zM157 171h1v1h-1zM158 129h1v1h-1zM158 130h1v1h-1zM158 131h1v1h-1zM158 132h1v1h-1zM158 133h1v1h-1zM158 134h1v1h-1zM158 135h1v1h-1zM158 137h1v1h-1zM158 138h1v1h-1zM158 141h1v1h-1zM158 142h1v1h-1zM158 143h1v1h-1zM158 144h1v1h-1zM158 146h1v1h-1zM158 147h1v1h-1zM158 148h1v1h-1zM158 149h1v1h-1zM158 150h1v1h-1zM158 151h1v1h-1zM158 152h1v1h-1zM158 154h1v1h-1zM158 156h1v1h-1zM158 157h1v1h-1zM158 158h1v1h-1zM158 159h1v1h-1zM158 160h1v1h-1zM158 161h1v1h-1zM158 162h1v1h-1zM158 163h1v1h-1zM158 164h1v1h-1zM158 165h1v1h-1zM158 166h1v1h-1zM158 167h1v1h-1zM158 168h1v1h-1zM158 169h1v1h-1zM158 170h1v1h-1zM159 129h1v1h-1zM159 130h1v1h-1zM159 131h1v1h-1zM159 132h1v1h-1zM159 133h1v1h-1zM159 134h1v1h-1zM159 135h1v1h-1zM159 136h1v1h-1zM159 137h1v1h-1zM159 141h1v1h-1zM159 142h1v1h-1zM159 143h1v1h-1zM159 144h1v1h-1zM159 146h1v1h-1zM159 147h1v1h-1zM159 148h1v1h-1zM159 151h1v1h-1zM159 152h1v1h-1zM159 154h1v1h-1zM159 156h1v1h-1zM159 158h1v1h-1zM159 159h1v1h-1zM159 160h1v1h-1zM159 161h1v1h-1zM159 162h1v1h-1zM159 163h1v1h-1zM159 164h1v1h-1zM159 165h1v1h-1zM159 166h1v1h-1zM159 167h1v1h-1zM159 168h1v1h-1zM159 169h1v1h-1zM159 170h1v1h-1zM159 171h1v1h-1zM160 129h1v1h-1zM160 131h1v1h-1zM160 132h1v1h-1zM160 133h1v1h-1zM160 134h1v1h-1zM160 135h1v1h-1zM160 136h1v1h-1zM160 137h1v1h-1zM160 138h1v1h-1zM160 139h1v1h-1zM160 140h1v1h-1zM160 141h1v1h-1zM160 143h1v1h-1zM160 144h1v1h-1zM160 146h1v1h-1zM160 148h1v1h-1zM160 149h1v1h-1zM160 150h1v1h-1zM160 153h1v1h-1zM160 154h1v1h-1zM160 155h1v1h-1zM160 156h1v1h-1zM160 157h1v1h-1zM160 158h1v1h-1zM160 159h1v1h-1zM160 161h1v1h-1zM160 162h1v1h-1zM160 164h1v1h-1zM160 165h1v1h-1zM160 166h1v1h-1zM160 167h1v1h-1zM160 168h1v1h-1zM160 169h1v1h-1zM160 170h1v1h-1zM161 129h1v1h-1zM161 132h1v1h-1zM161 133h1v1h-1zM161 134h1v1h-1zM161 136h1v1h-1zM161 137h1v1h-1zM161 138h1v1h-1zM161 139h1v1h-1zM161 140h1v1h-1zM161 141h1v1h-1zM161 142h1v1h-1zM161 143h1v1h-1zM161 145h1v1h-1zM161 146h1v1h-1zM161 147h1v1h-1zM161 148h1v1h-1zM161 149h1v1h-1zM161 150h1v1h-1zM161 151h1v1h-1zM161 152h1v1h-1zM161 153h1v1h-1zM161 154h1v1h-1zM161 155h1v1h-1zM161 156h1v1h-1zM161 157h1v1h-1zM161 158h1v1h-1zM161 160h1v1h-1zM161 161h1v1h-1zM161 163h1v1h-1zM161 164h1v1h-1zM161 165h1v1h-1zM161 166h1v1h-1zM161 167h1v1h-1zM161 168h1v1h-1zM161 169h1v1h-1zM161 170h1v1h-1zM162 129h1v1h-1zM162 130h1v1h-1zM162 133h1v1h-1zM162 134h1v1h-1zM162 137h1v1h-1zM162 138h1v1h-1zM162 139h1v1h-1zM162 140h1v1h-1zM162 141h1v1h-1zM162 142h1v1h-1zM162 143h1v1h-1zM162 144h1v1h-1zM162 145h1v1h-1zM162 146h1v1h-1zM162 147h1v1h-1zM162 148h1v1h-1zM162 149h1v1h-1zM162 150h1v1h-1zM162 151h1v1h-1zM162 152h1v1h-1zM162 153h1v1h-1zM162 155h1v1h-1zM162 156h1v1h-1zM162 157h1v1h-1zM162 158h1v1h-1zM162 159h1v1h-1zM162 160h1v1h-1zM162 161h1v1h-1zM162 162h1v1h-1zM162 163h1v1h-1zM162 164h1v1h-1zM162 165h1v1h-1zM162 167h1v1h-1zM162 168h1v1h-1zM162 169h1v1h-1zM162 170h1v1h-1zM162 171h1v1h-1zM163 129h1v1h-1zM163 133h1v1h-1zM163 134h1v1h-1zM163 135h1v1h-1zM163 136h1v1h-1zM163 138h1v1h-1zM163 140h1v1h-1zM163 142h1v1h-1zM163 143h1v1h-1zM163 144h1v1h-1zM163 145h1v1h-1zM163 146h1v1h-1zM163 147h1v1h-1zM163 148h1v1h-1zM163 149h1v1h-1zM163 150h1v1h-1zM163 151h1v1h-1zM163 152h1v1h-1zM163 153h1v1h-1zM163 154h1v1h-1zM163 155h1v1h-1zM163 156h1v1h-1zM163 158h1v1h-1zM163 159h1v1h-1zM163 160h1v1h-1zM163 163h1v1h-1zM163 164h1v1h-1zM163 165h1v1h-1zM163 166h1v1h-1zM163 167h1v1h-1zM163 168h1v1h-1zM163 169h1v1h-1zM163 170h1v1h-1zM163 171h1v1h-1zM164 131h1v1h-1zM164 132h1v1h-1zM164 135h1v1h-1zM164 136h1v1h-1zM164 137h1v1h-1zM164 140h1v1h-1zM164 141h1v1h-1zM164 143h1v1h-1zM164 144h1v1h-1zM164 145h1v1h-1zM164 146h1v1h-1zM164 147h1v1h-1zM164 148h1v1h-1zM164 149h1v1h-1zM164 150h1v1h-1zM164 151h1v1h-1zM164 152h1v1h-1zM164 154h1v1h-1zM164 155h1v1h-1zM164 157h1v1h-1zM164 158h1v1h-1zM164 159h1v1h-1zM164 160h1v1h-1zM164 161h1v1h-1zM164 162h1v1h-1zM164 163h1v1h-1zM164 164h1v1h-1zM164 165h1v1h-1zM164 166h1v1h-1zM164 167h1v1h-1zM164 168h1v1h-1zM164 170h1v1h-1zM165 129h1v1h-1zM165 130h1v1h-1zM165 134h1v1h-1zM165 135h1v1h-1zM165 137h1v1h-1zM165 138h1v1h-1zM165 140h1v1h-1zM165 141h1v1h-1zM165 142h1v1h-1zM165 143h1v1h-1zM165 146h1v1h-1zM165 147h1v1h-1zM165 150h1v1h-1zM165 151h1v1h-1zM165 152h1v1h-1zM165 153h1v1h-1zM165 154h1v1h-1zM165 155h1v1h-1zM165 156h1v1h-1zM165 157h1v1h-1zM165 158h1v1h-1zM165 159h1v1h-1zM165 160h1v1h-1zM165 161h1v1h-1zM165 162h1v1h-1zM165 163h1v1h-1zM165 166h1v1h-1zM165 167h1v1h-1zM165 169h1v1h-1zM165 170h1v1h-1zM165 171h1v1h-1zM166 129h1v1h-1zM166 132h1v1h-1zM166 133h1v1h-1zM166 135h1v1h-1zM166 138h1v1h-1zM166 139h1v1h-1zM166 142h1v1h-1zM166 143h1v1h-1zM166 144h1v1h-1zM166 146h1v1h-1zM166 148h1v1h-1zM166 149h1v1h-1zM166 150h1v1h-1zM166 151h1v1h-1zM166 153h1v1h-1zM166 154h1v1h-1zM166 155h1v1h-1zM166 156h1v1h-1zM166 157h1v1h-1zM166 159h1v1h-1zM166 161h1v1h-1zM166 164h1v1h-1zM166 165h1v1h-1zM166 167h1v1h-1zM166 170h1v1h-1zM167 130h1v1h-1zM167 131h1v1h-1zM167 132h1v1h-1zM167 134h1v1h-1zM167 139h1v1h-1zM167 144h1v1h-1zM167 145h1v1h-1zM167 146h1v1h-1zM167 149h1v1h-1zM167 151h1v1h-1zM167 153h1v1h-1zM167 155h1v1h-1zM167 156h1v1h-1zM167 157h1v1h-1zM167 158h1v1h-1zM167 159h1v1h-1zM167 160h1v1h-1zM167 161h1v1h-1zM167 162h1v1h-1zM167 163h1v1h-1zM167 164h1v1h-1zM167 165h1v1h-1zM167 166h1v1h-1zM167 168h1v1h-1zM167 169h1v1h-1zM167 170h1v1h-1zM168 138h1v1h-1zM168 140h1v1h-1zM168 142h1v1h-1zM168 143h1v1h-1zM168 145h1v1h-1zM168 147h1v1h-1zM168 151h1v1h-1zM168 152h1v1h-1zM168 155h1v1h-1zM168 156h1v1h-1zM168 157h1v1h-1zM168 158h1v1h-1zM168 159h1v1h-1zM168 160h1v1h-1zM168 161h1v1h-1zM168 162h1v1h-1zM168 164h1v1h-1zM168 165h1v1h-1zM168 166h1v1h-1zM168 167h1v1h-1zM168 169h1v1h-1zM168 170h1v1h-1zM169 137h1v1h-1zM169 138h1v1h-1zM169 139h1v1h-1zM169 141h1v1h-1zM169 143h1v1h-1zM169 144h1v1h-1zM169 145h1v1h-1zM169 147h1v1h-1zM169 148h1v1h-1zM169 149h1v1h-1zM169 152h1v1h-1zM169 153h1v1h-1zM169 154h1v1h-1zM169 155h1v1h-1zM169 158h1v1h-1zM169 160h1v1h-1zM169 162h1v1h-1zM169 163h1v1h-1zM169 165h1v1h-1zM169 166h1v1h-1zM169 167h1v1h-1zM169 168h1v1h-1zM169 169h1v1h-1zM169 170h1v1h-1zM170 143h1v1h-1zM170 145h1v1h-1zM170 148h1v1h-1zM170 149h1v1h-1zM170 151h1v1h-1zM170 153h1v1h-1zM170 156h1v1h-1zM170 157h1v1h-1zM170 160h1v1h-1zM170 161h1v1h-1zM170 162h1v1h-1zM170 163h1v1h-1zM170 164h1v1h-1zM170 165h1v1h-1zM170 166h1v1h-1zM170 167h1v1h-1zM170 168h1v1h-1zM170 169h1v1h-1zM170 171h1v1h-1zM171 142h1v1h-1zM171 144h1v1h-1zM171 145h1v1h-1zM171 149h1v1h-1zM171 152h1v1h-1zM171 154h1v1h-1zM171 155h1v1h-1zM171 160h1v1h-1zM171 162h1v1h-1zM171 163h1v1h-1zM171 164h1v1h-1zM171 165h1v1h-1zM171 166h1v1h-1zM171 167h1v1h-1zM171 168h1v1h-1zM171 169h1v1h-1zM172 131h1v1h-1zM172 147h1v1h-1zM172 150h1v1h-1zM172 151h1v1h-1zM172 154h1v1h-1zM172 156h1v1h-1zM172 158h1v1h-1zM172 159h1v1h-1zM172 161h1v1h-1zM172 162h1v1h-1zM172 163h1v1h-1zM172 164h1v1h-1zM172 166h1v1h-1zM172 167h1v1h-1zM172 170h1v1h-1zM172 171h1v1h-1zM173 141h1v1h-1zM173 143h1v1h-1zM173 146h1v1h-1zM173 150h1v1h-1zM173 153h1v1h-1zM173 160h1v1h-1zM173 161h1v1h-1zM173 162h1v1h-1zM173 164h1v1h-1zM173 165h1v1h-1zM173 168h1v1h-1zM173 169h1v1h-1zM173 170h1v1h-1zM174 139h1v1h-1zM174 145h1v1h-1zM174 149h1v1h-1zM174 152h1v1h-1zM174 153h1v1h-1zM174 155h1v1h-1zM174 159h1v1h-1zM174 160h1v1h-1zM174 163h1v1h-1zM174 164h1v1h-1zM174 168h1v1h-1zM174 170h1v1h-1zM175 145h1v1h-1zM175 156h1v1h-1zM175 157h1v1h-1zM175 159h1v1h-1zM175 160h1v1h-1zM175 163h1v1h-1zM175 165h1v1h-1zM175 166h1v1h-1zM175 167h1v1h-1zM175 168h1v1h-1zM176 146h1v1h-1zM176 152h1v1h-1zM176 158h1v1h-1zM176 159h1v1h-1zM176 162h1v1h-1zM176 165h1v1h-1zM176 166h1v1h-1zM176 167h1v1h-1zM177 148h1v1h-1zM177 149h1v1h-1zM177 150h1v1h-1zM177 160h1v1h-1zM177 163h1v1h-1zM177 167h1v1h-1zM177 169h1v1h-1zM178 149h1v1h-1zM178 151h1v1h-1zM178 153h1v1h-1zM178 156h1v1h-1zM178 165h1v1h-1zM178 167h1v1h-1zM179 144h1v1h-1zM179 152h1v1h-1zM179 157h1v1h-1zM179 161h1v1h-1zM179 164h1v1h-1zM179 167h1v1h-1zM179 169h1v1h-1zM179 170h1v1h-1zM179 171h1v1h-1zM180 144h1v1h-1zM180 156h1v1h-1zM180 161h1v1h-1zM180 163h1v1h-1zM180 164h1v1h-1zM180 165h1v1h-1zM180 167h1v1h-1zM180 168h1v1h-1zM181 149h1v1h-1zM181 156h1v1h-1zM181 160h1v1h-1zM181 163h1v1h-1zM182 137h1v1h-1zM182 140h1v1h-1zM182 143h1v1h-1zM182 155h1v1h-1zM182 160h1v1h-1zM182 171h1v1h-1zM183 138h1v1h-1zM183 142h1v1h-1zM183 148h1v1h-1zM183 157h1v1h-1zM183 158h1v1h-1zM183 163h1v1h-1zM184 144h1v1h-1zM184 147h1v1h-1zM185 138h1v1h-1zM185 144h1v1h-1zM186 171h1v1h-1zM187 164h1v1h-1zM188 145h1v1h-1zM188 154h1v1h-1zM189 138h1v1h-1zM189 147h1v1h-1zM189 164h1v1h-1zM192 134h1v1h-1zM193 158h1v1h-1zM195 167h1v1h-1zM195 168h1v1h-1zM196 146h1v1h-1zM197 161h1v1h-1zM199 158h1v1h-1z"/>
<path fill="#ffffff" shape-rendering="crispEdges" d="M118 128h1v1h-1zM118 129h1v1h-1zM118 130h1v1h-1zM120 129h1v1h-1zM122 128h1v1h-1zM123 129h1v1h-1zM125 128h1v1h-1zM125 129h1v1h-1zM126 131h1v1h-1zM127 128h1v1h-1zM127 129h1v1h-1zM129 130h1v1h-1zM130 129h1v1h-1zM131 129h1v1h-1zM132 128h1v1h-1zM132 129h1v1h-1zM133 128h1v1h-1zM133 129h1v1h-1zM134 129h1v1h-1zM134 130h1v1h-1zM135 129h1v1h-1zM136 128h1v1h-1zM136 129h1v1h-1zM137 128h1v1h-1zM137 130h1v1h-1zM138 128h1v1h-1zM139 129h1v1h-1zM140 129h1v1h-1zM141 129h1v1h-1zM141 132h1v1h-1zM142 131h1v1h-1zM143 128h1v1h-1zM144 128h1v1h-1zM144 129h1v1h-1zM145 128h1v1h-1zM146 128h1v1h-1zM146 129h1v1h-1zM147 128h1v1h-1zM147 130h1v1h-1zM148 129h1v1h-1zM148 130h1v1h-1zM148 131h1v1h-1zM149 129h1v1h-1z"/>
<g fill="#8fa8c0" opacity="0.7"><rect x="176.6" y="180.4" width="0.8" height="0.8"/><rect x="148.4" y="173.0" width="0.8" height="0.8"/><rect x="150.0" y="179.7" width="0.8" height="0.8"/><rect x="185.7" y="174.3" width="0.8" height="0.8"/><rect x="144.0" y="176.1" width="0.8" height="0.8"/><rect x="184.2" y="176.1" width="0.8" height="0.8"/><rect x="187.7" y="176.4" width="0.8" height="0.8"/><rect x="184.0" y="176.7" width="0.8" height="0.8"/><rect x="199.9" y="174.8" width="0.8" height="0.8"/><rect x="159.7" y="174.9" width="0.8" height="0.8"/><rect x="188.7" y="178.8" width="0.8" height="0.8"/><rect x="153.3" y="176.0" width="0.8" height="0.8"/><rect x="199.8" y="174.1" width="0.8" height="0.8"/><rect x="158.6" y="177.7" width="0.8" height="0.8"/><rect x="183.5" y="179.3" width="0.8" height="0.8"/><rect x="191.3" y="176.2" width="0.8" height="0.8"/><rect x="164.0" y="172.5" width="0.8" height="0.8"/><rect x="198.3" y="178.6" width="0.8" height="0.8"/><rect x="185.3" y="175.2" width="0.8" height="0.8"/><rect x="195.1" y="172.0" width="0.8" height="0.8"/><rect x="197.2" y="174.1" width="0.8" height="0.8"/><rect x="140.4" y="176.0" width="0.8" height="0.8"/><rect x="171.6" y="176.5" width="0.8" height="0.8"/><rect x="199.6" y="176.6" width="0.8" height="0.8"/><rect x="158.4" y="176.9" width="0.8" height="0.8"/></g>
<rect x="106.5" y="126.4" width="73" height="1.9" fill="#ff0000"/>
<rect x="179.5" y="126.4" width="4" height="1.9" fill="#8a1010"/>
<rect x="106.5" y="223" width="20.1" height="1.9" fill="#ff0000"/>
<path d="M184,128.6 L185,126.4 L186,128.6" fill="none" stroke="#333" stroke-width="0.6"/>
<path d="M185.6,128.6 L186.6,126.4 L187.6,128.6" fill="none" stroke="#333" stroke-width="0.6"/>
<path d="M187.4,128.6 L188.4,126.4 L189.4,128.6" fill="none" stroke="#333" stroke-width="0.6"/>
<path d="M190.6,128.6 L191.6,126.4 L192.6,128.6" fill="none" stroke="#333" stroke-width="0.6"/>
<path d="M193.6,128.6 L194.6,126.4 L195.6,128.6" fill="none" stroke="#333" stroke-width="0.6"/>
<path d="M196.4,128.6 L197.4,126.4 L198.4,128.6" fill="none" stroke="#333" stroke-width="0.6"/>
<path d="M127.9,222.6 L128.9,224.8 L129.9,222.6" fill="none" stroke="#555" stroke-width="0.6"/>
<path d="M133.2,222.6 L134.2,224.8 L135.2,222.6" fill="none" stroke="#555" stroke-width="0.6"/>
<path d="M136.2,222.6 L137.2,224.8 L138.2,222.6" fill="none" stroke="#555" stroke-width="0.6"/>
<path d="M140,222.6 L141,224.8 L142,222.6" fill="none" stroke="#555" stroke-width="0.6"/>
<path d="M152.8,222.6 L153.8,224.8 L154.8,222.6" fill="none" stroke="#555" stroke-width="0.6"/>
<line x1="106.5" y1="176.6" x2="222.5" y2="176.6" stroke="#f4a3a3" stroke-width="0.6" opacity="0.8"/>
<rect x="106.2" y="124.6" width="116.3" height="103.9" fill="none" stroke="#111" stroke-width="1.1"/>
<g fill="#111"><rect x="104.3" y="125.0" width="2" height="1.2"/><rect x="104.3" y="127.5" width="2" height="1.7"/><rect x="104.3" y="130.3" width="2" height="1.4"/><rect x="104.3" y="132.1" width="2" height="1.9"/><rect x="104.3" y="135.4" width="2" height="1.4"/><rect x="104.3" y="137.8" width="2" height="1.9"/><rect x="104.3" y="140.6" width="2" height="1.4"/><rect x="104.3" y="142.9" width="2" height="1.8"/><rect x="104.3" y="145.9" width="2" height="1.1"/><rect x="104.3" y="148.4" width="2" height="1.2"/><rect x="104.3" y="150.7" width="2" height="1.2"/><rect x="104.3" y="153.4" width="2" height="2.1"/><rect x="104.3" y="156.8" width="2" height="1.2"/><rect x="104.3" y="158.8" width="2" height="1.3"/><rect x="104.3" y="161.2" width="2" height="0.7"/><rect x="104.3" y="162.8" width="2" height="2.1"/><rect x="104.3" y="165.3" width="2" height="2.0"/><rect x="104.3" y="168.4" width="2" height="2.2"/><rect x="104.3" y="171.8" width="2" height="1.8"/><rect x="104.3" y="174.8" width="2" height="1.3"/><rect x="104.3" y="176.6" width="2" height="2.0"/><rect x="104.3" y="180.0" width="2" height="1.8"/><rect x="104.3" y="182.3" width="2" height="1.4"/><rect x="104.3" y="184.7" width="2" height="1.2"/><rect x="104.3" y="186.8" width="2" height="1.3"/><rect x="104.3" y="189.7" width="2" height="1.6"/><rect x="104.3" y="192.9" width="2" height="2.1"/><rect x="104.3" y="195.5" width="2" height="1.8"/><rect x="104.3" y="198.1" width="2" height="1.6"/><rect x="104.3" y="200.7" width="2" height="1.8"/><rect x="104.3" y="203.2" width="2" height="1.7"/><rect x="104.3" y="205.6" width="2" height="1.9"/><rect x="104.3" y="208.4" width="2" height="1.6"/><rect x="104.3" y="211.6" width="2" height="1.0"/><rect x="104.3" y="213.0" width="2" height="2.0"/><rect x="104.3" y="216.0" width="2" height="1.6"/><rect x="104.3" y="219.0" width="2" height="2.0"/><rect x="104.3" y="221.8" width="2" height="2.2"/><rect x="104.3" y="224.8" width="2" height="1.8"/><rect x="104.3" y="228.0" width="2" height="1.2"/><rect x="222.6" y="128.0" width="2.4" height="1.5"/><rect x="222.6" y="130.7" width="2.4" height="1.6"/><rect x="222.6" y="134.4" width="2.4" height="0.7"/><rect x="222.6" y="137.7" width="2.4" height="2.5"/><rect x="222.6" y="141.8" width="2.4" height="2.1"/><rect x="222.6" y="145.0" width="2.4" height="2.4"/><rect x="222.6" y="149.7" width="2.4" height="1.5"/><rect x="222.6" y="152.7" width="2.4" height="1.1"/><rect x="222.6" y="154.9" width="2.4" height="2.6"/><rect x="222.6" y="159.3" width="2.4" height="1.7"/><rect x="222.6" y="162.7" width="2.4" height="1.0"/><rect x="222.6" y="164.3" width="2.4" height="1.5"/><rect x="222.6" y="167.4" width="2.4" height="1.0"/><rect x="222.6" y="170.0" width="2.4" height="1.4"/><rect x="222.6" y="172.4" width="2.4" height="2.4"/><rect x="222.6" y="176.0" width="2.4" height="2.4"/><rect x="222.6" y="180.4" width="2.4" height="1.5"/><rect x="222.6" y="182.5" width="2.4" height="2.6"/><rect x="222.6" y="186.7" width="2.4" height="2.0"/><rect x="222.6" y="190.6" width="2.4" height="1.9"/><rect x="222.6" y="194.8" width="2.4" height="0.6"/><rect x="222.6" y="197.9" width="2.4" height="2.1"/><rect x="222.6" y="201.2" width="2.4" height="2.8"/><rect x="222.6" y="206.3" width="2.4" height="2.0"/><rect x="222.6" y="208.9" width="2.4" height="2.1"/><rect x="222.6" y="212.3" width="2.4" height="2.0"/><rect x="222.6" y="216.4" width="2.4" height="0.9"/><rect x="222.6" y="219.5" width="2.4" height="1.3"/><rect x="222.6" y="221.9" width="2.4" height="0.7"/><rect x="222.6" y="223.3" width="2.4" height="1.2"/><rect x="106.0" y="228.6" width="1.9" height="2"/><rect x="108.6" y="228.6" width="0.9" height="2"/><rect x="110.5" y="228.6" width="1.5" height="2"/><rect x="112.9" y="228.6" width="1.5" height="2"/><rect x="115.1" y="228.6" width="0.6" height="2"/><rect x="117.0" y="228.6" width="1.6" height="2"/><rect x="119.2" y="228.6" width="0.6" height="2"/><rect x="121.2" y="228.6" width="0.6" height="2"/><rect x="123.7" y="228.6" width="1.5" height="2"/><rect x="125.9" y="228.6" width="1.1" height="2"/><rect x="127.5" y="228.6" width="0.6" height="2"/><rect x="129.1" y="228.6" width="1.8" height="2"/><rect x="132.8" y="228.6" width="1.6" height="2"/><rect x="135.8" y="228.6" width="1.4" height="2"/><rect x="138.4" y="228.6" width="1.5" height="2"/><rect x="141.1" y="228.6" width="1.1" height="2"/><rect x="143.9" y="228.6" width="1.0" height="2"/><rect x="145.9" y="228.6" width="1.5" height="2"/><rect x="149.4" y="228.6" width="1.0" height="2"/><rect x="151.5" y="228.6" width="1.1" height="2"/><rect x="153.3" y="228.6" width="1.0" height="2"/><rect x="156.0" y="228.6" width="0.8" height="2"/><rect x="158.0" y="228.6" width="0.9" height="2"/><rect x="160.2" y="228.6" width="1.7" height="2"/><rect x="162.5" y="228.6" width="1.2" height="2"/><rect x="164.4" y="228.6" width="1.5" height="2"/><rect x="167.4" y="228.6" width="0.8" height="2"/><rect x="169.0" y="228.6" width="1.0" height="2"/><rect x="170.8" y="228.6" width="1.8" height="2"/><rect x="174.5" y="228.6" width="1.7" height="2"/><rect x="177.2" y="228.6" width="1.2" height="2"/><rect x="179.1" y="228.6" width="1.2" height="2"/><rect x="182.2" y="228.6" width="0.6" height="2"/><rect x="183.9" y="228.6" width="0.8" height="2"/><rect x="186.4" y="228.6" width="1.0" height="2"/><rect x="188.6" y="228.6" width="0.6" height="2"/><rect x="190.6" y="228.6" width="1.3" height="2"/><rect x="193.6" y="228.6" width="1.6" height="2"/><rect x="196.8" y="228.6" width="0.9" height="2"/><rect x="198.5" y="228.6" width="1.4" height="2"/><rect x="200.3" y="228.6" width="1.9" height="2"/><rect x="203.8" y="228.6" width="1.2" height="2"/><rect x="206.0" y="228.6" width="0.6" height="2"/><rect x="207.9" y="228.6" width="1.7" height="2"/><rect x="210.2" y="228.6" width="0.6" height="2"/><rect x="212.3" y="228.6" width="1.2" height="2"/><rect x="215.2" y="228.6" width="1.1" height="2"/><rect x="218.3" y="228.6" width="1.8" height="2"/><rect x="221.0" y="228.6" width="1.3" height="2"/></g>
<text x="92.9" y="132.9" font-size="6.6" stroke="#262626" stroke-width="0.09" fill="#262626" >10<tspan dy="-2.5" font-size="4.6">3</tspan></text>
<line x1="102.3" y1="130.6" x2="106" y2="130.6" stroke="#111" stroke-width="0.9"/>
<text x="92.9" y="148.0" font-size="6.6" stroke="#262626" stroke-width="0.09" fill="#262626" >10<tspan dy="-2.5" font-size="4.6">2</tspan></text>
<line x1="102.3" y1="145.7" x2="106" y2="145.7" stroke="#111" stroke-width="0.9"/>
<text x="98.7" y="163.0" font-size="6.6" stroke="#262626" stroke-width="0.09" text-anchor="end" fill="#262626" >10</text>
<line x1="102.3" y1="160.7" x2="106" y2="160.7" stroke="#111" stroke-width="0.9"/>
<text x="98.7" y="179.70000000000002" font-size="6.6" stroke="#262626" stroke-width="0.09" text-anchor="end" fill="#262626" >1</text>
<line x1="102.3" y1="177.4" x2="106" y2="177.4" stroke="#111" stroke-width="0.9"/>
<text x="90.8" y="196.10000000000002" font-size="6.6" stroke="#262626" stroke-width="0.09" fill="#262626" >10<tspan dy="-2.5" font-size="4.6">−1</tspan></text>
<line x1="102.3" y1="193.8" x2="106" y2="193.8" stroke="#111" stroke-width="0.9"/>
<text x="90.8" y="212.3" font-size="6.6" stroke="#262626" stroke-width="0.09" fill="#262626" >10<tspan dy="-2.5" font-size="4.6">−2</tspan></text>
<line x1="102.3" y1="210.0" x2="106" y2="210.0" stroke="#111" stroke-width="0.9"/>
<text x="90.8" y="227.70000000000002" font-size="6.6" stroke="#262626" stroke-width="0.09" fill="#262626" >10<tspan dy="-2.5" font-size="4.6">−3</tspan></text>
<line x1="102.3" y1="225.4" x2="106" y2="225.4" stroke="#111" stroke-width="0.9"/>
<text x="84.3" y="175.3" font-size="8.6" stroke="#262626" stroke-width="0.12" text-anchor="middle" textLength="41.5" lengthAdjust="spacingAndGlyphs" fill="#262626" transform="rotate(-90 84.3 175.3)" >Fold change</text>
<text x="110.5" y="239.3" font-size="6.4" stroke="#262626" stroke-width="0.09" text-anchor="middle" fill="#262626" >1</text>
<line x1="110.5" y1="228.5" x2="110.5" y2="231.5" stroke="#111" stroke-width="0.8"/>
<text x="130" y="239.3" font-size="6.4" stroke="#262626" stroke-width="0.09" text-anchor="middle" fill="#262626" >10</text>
<line x1="130" y1="228.5" x2="130" y2="231.5" stroke="#111" stroke-width="0.8"/>
<text x="143.7" y="239.3" font-size="6.4" stroke="#262626" stroke-width="0.09" fill="#262626" >10<tspan dy="-2.5" font-size="4.6">2</tspan></text>
<line x1="148" y1="228.5" x2="148" y2="231.5" stroke="#111" stroke-width="0.8"/>
<text x="162.0" y="239.3" font-size="6.4" stroke="#262626" stroke-width="0.09" fill="#262626" >10<tspan dy="-2.5" font-size="4.6">3</tspan></text>
<line x1="166.3" y1="228.5" x2="166.3" y2="231.5" stroke="#111" stroke-width="0.8"/>
<text x="179.5" y="239.3" font-size="6.4" stroke="#262626" stroke-width="0.09" fill="#262626" >10<tspan dy="-2.5" font-size="4.6">4</tspan></text>
<line x1="183.8" y1="228.5" x2="183.8" y2="231.5" stroke="#111" stroke-width="0.8"/>
<text x="197.5" y="239.3" font-size="6.4" stroke="#262626" stroke-width="0.09" fill="#262626" >10<tspan dy="-2.5" font-size="4.6">5</tspan></text>
<line x1="201.8" y1="228.5" x2="201.8" y2="231.5" stroke="#111" stroke-width="0.8"/>
<text x="163.9" y="249.5" font-size="8.8" stroke="#262626" stroke-width="0.12" text-anchor="middle" textLength="90.9" lengthAdjust="spacingAndGlyphs" fill="#262626" >Mean normalized coverage</text>
<text x="218.2" y="135.9" font-size="6" stroke="#262626" stroke-width="0.09" text-anchor="end" textLength="47.4" lengthAdjust="spacingAndGlyphs" fill="#262626" >37495 higher in WT</text>
<text x="218.3" y="222.4" font-size="6" stroke="#262626" stroke-width="0.09" text-anchor="end" textLength="46.2" lengthAdjust="spacingAndGlyphs" fill="#262626" >14249 higher in UA</text>
</g>
<path d="M104.2,261.6 V291.1 H275.6" fill="none" stroke="#111" stroke-width="1"/>
<line x1="102" y1="264.1" x2="104.2" y2="264.1" stroke="#111" stroke-width="0.9"/>
<text x="98.9" y="267.05" font-size="8.2" stroke="#262626" stroke-width="0.12" text-anchor="end" textLength="7.3" lengthAdjust="spacingAndGlyphs" fill="#262626" >10</text>
<line x1="102" y1="274" x2="104.2" y2="274" stroke="#111" stroke-width="0.9"/>
<text x="98.9" y="276.95" font-size="8.2" stroke="#262626" stroke-width="0.12" text-anchor="end" textLength="3.7" lengthAdjust="spacingAndGlyphs" fill="#262626" >0</text>
<line x1="102" y1="284" x2="104.2" y2="284" stroke="#111" stroke-width="0.9"/>
<text x="98.9" y="286.95" font-size="8.2" stroke="#262626" stroke-width="0.12" text-anchor="end" textLength="12.3" lengthAdjust="spacingAndGlyphs" fill="#262626" >−10</text>
<line x1="153.8" y1="291.1" x2="153.8" y2="293.7" stroke="#111" stroke-width="0.9"/>
<text x="154.3" y="304" font-size="8.0" stroke="#262626" stroke-width="0.12" text-anchor="middle" textLength="12.8" lengthAdjust="spacingAndGlyphs" fill="#262626" >−50</text>
<line x1="202.6" y1="291.1" x2="202.6" y2="293.7" stroke="#111" stroke-width="0.9"/>
<text x="202.9" y="304" font-size="8.0" stroke="#262626" stroke-width="0.12" text-anchor="middle" textLength="3.9" lengthAdjust="spacingAndGlyphs" fill="#262626" >0</text>
<line x1="251.4" y1="291.1" x2="251.4" y2="293.7" stroke="#111" stroke-width="0.9"/>
<text x="251.70000000000002" y="304" font-size="8.0" stroke="#262626" stroke-width="0.12" text-anchor="middle" textLength="8.2" lengthAdjust="spacingAndGlyphs" fill="#262626" >50</text>
<circle cx="112.3" cy="265.9" r="1.5" fill="#c2123a"/>
<circle cx="148.2" cy="274.4" r="1.5" fill="#c2123a"/>
<circle cx="170.8" cy="289.8" r="1.5" fill="#c2123a"/>
<circle cx="252.9" cy="263.5" r="1.5" fill="#1c3a5a"/>
<circle cx="267.1" cy="272.1" r="1.5" fill="#1c3a5a"/>
<circle cx="261.2" cy="281.8" r="1.5" fill="#1c3a5a"/>
<text x="80.9" y="274.2" font-size="8.0" stroke="#262626" stroke-width="0.12" text-anchor="middle" textLength="28.8" lengthAdjust="spacingAndGlyphs" fill="#262626" transform="rotate(-90 80.9 274.2)" >PC2: 2%</text>
<text x="190" y="317.6" font-size="9.4" stroke="#262626" stroke-width="0.12" text-anchor="middle" textLength="62.8" lengthAdjust="spacingAndGlyphs" fill="#262626" >PC1: 97% variance</text>
<circle cx="167.2" cy="326.2" r="1.3" fill="#c2123a"/>
<circle cx="195" cy="326.2" r="1.3" fill="#1c3a5a"/>
<text x="171.1" y="328.8" font-size="7.8" stroke="#262626" stroke-width="0.12" textLength="11.3" lengthAdjust="spacingAndGlyphs" fill="#262626" >UA</text>
<text x="199.7" y="328.8" font-size="7.8" stroke="#262626" stroke-width="0.12" textLength="11.2" lengthAdjust="spacingAndGlyphs" fill="#262626" >WT</text>
<text x="282.8" y="10" font-size="11.2" stroke="#000" stroke-width="0.12" font-weight="bold" fill="#000" >C</text>
<rect x="339.30" y="44.50" width="26.20" height="8.72" fill="#fbd88e"/>
<rect x="365.50" y="44.50" width="26.20" height="8.72" fill="#f9c680"/>
<rect x="391.70" y="44.50" width="26.20" height="8.72" fill="#fbd88c"/>
<rect x="417.90" y="44.50" width="26.20" height="8.72" fill="#c7dded"/>
<rect x="444.10" y="44.50" width="26.20" height="8.72" fill="#b5d0e6"/>
<rect x="470.30" y="44.50" width="26.20" height="8.72" fill="#d0e5f0"/>
<rect x="339.30" y="53.22" width="26.20" height="8.72" fill="#f8b06a"/>
<rect x="365.50" y="53.22" width="26.20" height="8.72" fill="#f8ae68"/>
<rect x="391.70" y="53.22" width="26.20" height="8.72" fill="#f9bd72"/>
<rect x="417.90" y="53.22" width="26.20" height="8.72" fill="#7fb0d6"/>
<rect x="444.10" y="53.22" width="26.20" height="8.72" fill="#a9cae3"/>
<rect x="470.30" y="53.22" width="26.20" height="8.72" fill="#9cc2de"/>
<rect x="339.30" y="61.94" width="26.20" height="8.72" fill="#fdf3b8"/>
<rect x="365.50" y="61.94" width="26.20" height="8.72" fill="#fdf1b5"/>
<rect x="391.70" y="61.94" width="26.20" height="8.72" fill="#fdf3b9"/>
<rect x="417.90" y="61.94" width="26.20" height="8.72" fill="#e2f2f6"/>
<rect x="444.10" y="61.94" width="26.20" height="8.72" fill="#f2f9dc"/>
<rect x="470.30" y="61.94" width="26.20" height="8.72" fill="#e4f2f2"/>
<rect x="339.30" y="70.66" width="26.20" height="8.72" fill="#fdf0b2"/>
<rect x="365.50" y="70.66" width="26.20" height="8.72" fill="#fdf2b5"/>
<rect x="391.70" y="70.66" width="26.20" height="8.72" fill="#fef5bd"/>
<rect x="417.90" y="70.66" width="26.20" height="8.72" fill="#f6fbd4"/>
<rect x="444.10" y="70.66" width="26.20" height="8.72" fill="#e2f1f4"/>
<rect x="470.30" y="70.66" width="26.20" height="8.72" fill="#deeff4"/>
<rect x="339.30" y="79.38" width="26.20" height="8.72" fill="#fde6a2"/>
<rect x="365.50" y="79.38" width="26.20" height="8.72" fill="#fde5a0"/>
<rect x="391.70" y="79.38" width="26.20" height="8.72" fill="#fde9a8"/>
<rect x="417.90" y="79.38" width="26.20" height="8.72" fill="#a4c9e4"/>
<rect x="444.10" y="79.38" width="26.20" height="8.72" fill="#f6fbd2"/>
<rect x="470.30" y="79.38" width="26.20" height="8.72" fill="#deeff5"/>
<rect x="339.30" y="88.10" width="26.20" height="8.72" fill="#fde29a"/>
<rect x="365.50" y="88.10" width="26.20" height="8.72" fill="#fde6a0"/>
<rect x="391.70" y="88.10" width="26.20" height="8.72" fill="#fde9a8"/>
<rect x="417.90" y="88.10" width="26.20" height="8.72" fill="#a8cce6"/>
<rect x="444.10" y="88.10" width="26.20" height="8.72" fill="#fafcc8"/>
<rect x="470.30" y="88.10" width="26.20" height="8.72" fill="#c4dded"/>
<rect x="339.30" y="96.82" width="26.20" height="8.72" fill="#fde8a4"/>
<rect x="365.50" y="96.82" width="26.20" height="8.72" fill="#fde8a5"/>
<rect x="391.70" y="96.82" width="26.20" height="8.72" fill="#fdeaa8"/>
<rect x="417.90" y="96.82" width="26.20" height="8.72" fill="#e2f1f6"/>
<rect x="444.10" y="96.82" width="26.20" height="8.72" fill="#dcedf5"/>
<rect x="470.30" y="96.82" width="26.20" height="8.72" fill="#c0daed"/>
<rect x="339.30" y="105.54" width="26.20" height="8.72" fill="#fde39c"/>
<rect x="365.50" y="105.54" width="26.20" height="8.72" fill="#fde6a0"/>
<rect x="391.70" y="105.54" width="26.20" height="8.72" fill="#fde8a4"/>
<rect x="417.90" y="105.54" width="26.20" height="8.72" fill="#f0f8e2"/>
<rect x="444.10" y="105.54" width="26.20" height="8.72" fill="#c6def0"/>
<rect x="470.30" y="105.54" width="26.20" height="8.72" fill="#a8cbe4"/>
<rect x="339.30" y="114.26" width="26.20" height="8.72" fill="#fcd48a"/>
<rect x="365.50" y="114.26" width="26.20" height="8.72" fill="#fde29b"/>
<rect x="391.70" y="114.26" width="26.20" height="8.72" fill="#fde6a1"/>
<rect x="417.90" y="114.26" width="26.20" height="8.72" fill="#d8ebf6"/>
<rect x="444.10" y="114.26" width="26.20" height="8.72" fill="#e8f4ee"/>
<rect x="470.30" y="114.26" width="26.20" height="8.72" fill="#bcd7ea"/>
<rect x="339.30" y="122.98" width="26.20" height="8.72" fill="#fde19b"/>
<rect x="365.50" y="122.98" width="26.20" height="8.72" fill="#fde5a0"/>
<rect x="391.70" y="122.98" width="26.20" height="8.72" fill="#fcdc93"/>
<rect x="417.90" y="122.98" width="26.20" height="8.72" fill="#d6eaf6"/>
<rect x="444.10" y="122.98" width="26.20" height="8.72" fill="#e8f4ef"/>
<rect x="470.30" y="122.98" width="26.20" height="8.72" fill="#88b6dc"/>
<rect x="339.30" y="131.70" width="26.20" height="8.72" fill="#cbe0ef"/>
<rect x="365.50" y="131.70" width="26.20" height="8.72" fill="#e4f1f1"/>
<rect x="391.70" y="131.70" width="26.20" height="8.72" fill="#a8c9e2"/>
<rect x="417.90" y="131.70" width="26.20" height="8.72" fill="#f46d43"/>
<rect x="444.10" y="131.70" width="26.20" height="8.72" fill="#eaf4ed"/>
<rect x="470.30" y="131.70" width="26.20" height="8.72" fill="#fef0b0"/>
<rect x="339.30" y="140.42" width="26.20" height="8.72" fill="#dbeff6"/>
<rect x="365.50" y="140.42" width="26.20" height="8.72" fill="#dceff5"/>
<rect x="391.70" y="140.42" width="26.20" height="8.72" fill="#eef8e3"/>
<rect x="417.90" y="140.42" width="26.20" height="8.72" fill="#fbbf72"/>
<rect x="444.10" y="140.42" width="26.20" height="8.72" fill="#fef4bb"/>
<rect x="470.30" y="140.42" width="26.20" height="8.72" fill="#fef2b6"/>
<rect x="339.30" y="149.14" width="26.20" height="8.72" fill="#dfeff5"/>
<rect x="365.50" y="149.14" width="26.20" height="8.72" fill="#eef8e2"/>
<rect x="391.70" y="149.14" width="26.20" height="8.72" fill="#f6fbd0"/>
<rect x="417.90" y="149.14" width="26.20" height="8.72" fill="#fef0b2"/>
<rect x="444.10" y="149.14" width="26.20" height="8.72" fill="#fef4ba"/>
<rect x="470.30" y="149.14" width="26.20" height="8.72" fill="#fef1b4"/>
<rect x="339.30" y="157.86" width="26.20" height="8.72" fill="#e9f5e9"/>
<rect x="365.50" y="157.86" width="26.20" height="8.72" fill="#e0f1f3"/>
<rect x="391.70" y="157.86" width="26.20" height="8.72" fill="#eff8e2"/>
<rect x="417.90" y="157.86" width="26.20" height="8.72" fill="#fdecae"/>
<rect x="444.10" y="157.86" width="26.20" height="8.72" fill="#fef4ba"/>
<rect x="470.30" y="157.86" width="26.20" height="8.72" fill="#fef0b2"/>
<rect x="339.30" y="166.58" width="26.20" height="8.72" fill="#eef8e4"/>
<rect x="365.50" y="166.58" width="26.20" height="8.72" fill="#edf7e6"/>
<rect x="391.70" y="166.58" width="26.20" height="8.72" fill="#eef8e4"/>
<rect x="417.90" y="166.58" width="26.20" height="8.72" fill="#fdeeb0"/>
<rect x="444.10" y="166.58" width="26.20" height="8.72" fill="#fef4ba"/>
<rect x="470.30" y="166.58" width="26.20" height="8.72" fill="#fef1b4"/>
<rect x="339.30" y="175.30" width="26.20" height="8.72" fill="#dcedf5"/>
<rect x="365.50" y="175.30" width="26.20" height="8.72" fill="#e6f4ee"/>
<rect x="391.70" y="175.30" width="26.20" height="8.72" fill="#f4fad8"/>
<rect x="417.90" y="175.30" width="26.20" height="8.72" fill="#eef7e6"/>
<rect x="444.10" y="175.30" width="26.20" height="8.72" fill="#fdd690"/>
<rect x="470.30" y="175.30" width="26.20" height="8.72" fill="#fef0b2"/>
<rect x="339.30" y="184.02" width="26.20" height="8.72" fill="#d9edf6"/>
<rect x="365.50" y="184.02" width="26.20" height="8.72" fill="#b8d7ea"/>
<rect x="391.70" y="184.02" width="26.20" height="8.72" fill="#d0e6f2"/>
<rect x="417.90" y="184.02" width="26.20" height="8.72" fill="#fde6a0"/>
<rect x="444.10" y="184.02" width="26.20" height="8.72" fill="#fbc57a"/>
<rect x="470.30" y="184.02" width="26.20" height="8.72" fill="#fde29a"/>
<rect x="339.30" y="192.74" width="26.20" height="8.72" fill="#cfe5f2"/>
<rect x="365.50" y="192.74" width="26.20" height="8.72" fill="#d6eaf4"/>
<rect x="391.70" y="192.74" width="26.20" height="8.72" fill="#e0f1f4"/>
<rect x="417.90" y="192.74" width="26.20" height="8.72" fill="#fde4a0"/>
<rect x="444.10" y="192.74" width="26.20" height="8.72" fill="#fcd38a"/>
<rect x="470.30" y="192.74" width="26.20" height="8.72" fill="#fde8a4"/>
<rect x="339.30" y="201.46" width="26.20" height="8.72" fill="#d3e8f3"/>
<rect x="365.50" y="201.46" width="26.20" height="8.72" fill="#d5e9f3"/>
<rect x="391.70" y="201.46" width="26.20" height="8.72" fill="#c5def0"/>
<rect x="417.90" y="201.46" width="26.20" height="8.72" fill="#fde39b"/>
<rect x="444.10" y="201.46" width="26.20" height="8.72" fill="#fde29b"/>
<rect x="470.30" y="201.46" width="26.20" height="8.72" fill="#fde6a0"/>
<rect x="339.30" y="210.18" width="26.20" height="8.72" fill="#dff0f4"/>
<rect x="365.50" y="210.18" width="26.20" height="8.72" fill="#e0f1f3"/>
<rect x="391.70" y="210.18" width="26.20" height="8.72" fill="#dbeef5"/>
<rect x="417.90" y="210.18" width="26.20" height="8.72" fill="#fee8a4"/>
<rect x="444.10" y="210.18" width="26.20" height="8.72" fill="#fde6a0"/>
<rect x="470.30" y="210.18" width="26.20" height="8.72" fill="#feefae"/>
<rect x="339.30" y="218.90" width="26.20" height="8.72" fill="#cfe3f0"/>
<rect x="365.50" y="218.90" width="26.20" height="8.72" fill="#9fc4e0"/>
<rect x="391.70" y="218.90" width="26.20" height="8.72" fill="#d6e8f2"/>
<rect x="417.90" y="218.90" width="26.20" height="8.72" fill="#d7e9f2"/>
<rect x="444.10" y="218.90" width="26.20" height="8.72" fill="#e55039"/>
<rect x="470.30" y="218.90" width="26.20" height="8.72" fill="#fcd08a"/>
<rect x="339.30" y="227.62" width="26.20" height="8.72" fill="#4a7fc0"/>
<rect x="365.50" y="227.62" width="26.20" height="8.72" fill="#7aaad2"/>
<rect x="391.70" y="227.62" width="26.20" height="8.72" fill="#4d82c2"/>
<rect x="417.90" y="227.62" width="26.20" height="8.72" fill="#fbb56c"/>
<rect x="444.10" y="227.62" width="26.20" height="8.72" fill="#f9a45e"/>
<rect x="470.30" y="227.62" width="26.20" height="8.72" fill="#d7302a"/>
<rect x="339.30" y="236.34" width="26.20" height="8.72" fill="#4a7bbc"/>
<rect x="365.50" y="236.34" width="26.20" height="8.72" fill="#7eaed4"/>
<rect x="391.70" y="236.34" width="26.20" height="8.72" fill="#86b4d6"/>
<rect x="417.90" y="236.34" width="26.20" height="8.72" fill="#fba862"/>
<rect x="444.10" y="236.34" width="26.20" height="8.72" fill="#e9553b"/>
<rect x="470.30" y="236.34" width="26.20" height="8.72" fill="#f99a5a"/>
<rect x="339.30" y="245.06" width="26.20" height="8.72" fill="#4d80c0"/>
<rect x="365.50" y="245.06" width="26.20" height="8.72" fill="#80b0d5"/>
<rect x="391.70" y="245.06" width="26.20" height="8.72" fill="#8fbadb"/>
<rect x="417.90" y="245.06" width="26.20" height="8.72" fill="#fbac66"/>
<rect x="444.10" y="245.06" width="26.20" height="8.72" fill="#e85a3e"/>
<rect x="470.30" y="245.06" width="26.20" height="8.72" fill="#f99d5c"/>
<rect x="339.30" y="253.78" width="26.20" height="8.72" fill="#78a9d1"/>
<rect x="365.50" y="253.78" width="26.20" height="8.72" fill="#8ebad9"/>
<rect x="391.70" y="253.78" width="26.20" height="8.72" fill="#cde3ef"/>
<rect x="417.90" y="253.78" width="26.20" height="8.72" fill="#f99858"/>
<rect x="444.10" y="253.78" width="26.20" height="8.72" fill="#fde7a2"/>
<rect x="470.30" y="253.78" width="26.20" height="8.72" fill="#fba862"/>
<rect x="339.30" y="262.50" width="26.20" height="8.72" fill="#4f82c0"/>
<rect x="365.50" y="262.50" width="26.20" height="8.72" fill="#8ebad9"/>
<rect x="391.70" y="262.50" width="26.20" height="8.72" fill="#f2f9e2"/>
<rect x="417.90" y="262.50" width="26.20" height="8.72" fill="#f99656"/>
<rect x="444.10" y="262.50" width="26.20" height="8.72" fill="#fde49d"/>
<rect x="470.30" y="262.50" width="26.20" height="8.72" fill="#fba964"/>
<rect x="339.30" y="271.22" width="26.20" height="8.72" fill="#8db8d8"/>
<rect x="365.50" y="271.22" width="26.20" height="8.72" fill="#94bddb"/>
<rect x="391.70" y="271.22" width="26.20" height="8.72" fill="#94bddb"/>
<rect x="417.90" y="271.22" width="26.20" height="8.72" fill="#fde19a"/>
<rect x="444.10" y="271.22" width="26.20" height="8.72" fill="#fba963"/>
<rect x="470.30" y="271.22" width="26.20" height="8.72" fill="#fba862"/>
<rect x="339.30" y="279.94" width="26.20" height="8.72" fill="#7aaad3"/>
<rect x="365.50" y="279.94" width="26.20" height="8.72" fill="#abcce4"/>
<rect x="391.70" y="279.94" width="26.20" height="8.72" fill="#d7e9f2"/>
<rect x="417.90" y="279.94" width="26.20" height="8.72" fill="#fdd792"/>
<rect x="444.10" y="279.94" width="26.20" height="8.72" fill="#fcd28d"/>
<rect x="470.30" y="279.94" width="26.20" height="8.72" fill="#fcc87f"/>
<rect x="339.30" y="288.66" width="26.20" height="8.72" fill="#a3c6e1"/>
<rect x="365.50" y="288.66" width="26.20" height="8.72" fill="#c3dbec"/>
<rect x="391.70" y="288.66" width="26.20" height="8.72" fill="#bcd7ea"/>
<rect x="417.90" y="288.66" width="26.20" height="8.72" fill="#fdd995"/>
<rect x="444.10" y="288.66" width="26.20" height="8.72" fill="#fdd995"/>
<rect x="470.30" y="288.66" width="26.20" height="8.72" fill="#fdd794"/>
<line x1="365.50" y1="44.5" x2="365.50" y2="297.38" stroke="#999" stroke-width="0.6" opacity="0.8"/>
<line x1="391.70" y1="44.5" x2="391.70" y2="297.38" stroke="#999" stroke-width="0.6" opacity="0.8"/>
<line x1="417.90" y1="44.5" x2="417.90" y2="297.38" stroke="#999" stroke-width="0.6" opacity="0.8"/>
<line x1="444.10" y1="44.5" x2="444.10" y2="297.38" stroke="#999" stroke-width="0.6" opacity="0.8"/>
<line x1="470.30" y1="44.5" x2="470.30" y2="297.38" stroke="#999" stroke-width="0.6" opacity="0.8"/>
<line x1="339.3" y1="53.22" x2="496.50" y2="53.22" stroke="#999" stroke-width="0.6" opacity="0.8"/>
<line x1="339.3" y1="61.94" x2="496.50" y2="61.94" stroke="#999" stroke-width="0.6" opacity="0.8"/>
<line x1="339.3" y1="70.66" x2="496.50" y2="70.66" stroke="#999" stroke-width="0.6" opacity="0.8"/>
<line x1="339.3" y1="79.38" x2="496.50" y2="79.38" stroke="#999" stroke-width="0.6" opacity="0.8"/>
<line x1="339.3" y1="88.10" x2="496.50" y2="88.10" stroke="#999" stroke-width="0.6" opacity="0.8"/>
<line x1="339.3" y1="96.82" x2="496.50" y2="96.82" stroke="#999" stroke-width="0.6" opacity="0.8"/>
<line x1="339.3" y1="105.54" x2="496.50" y2="105.54" stroke="#999" stroke-width="0.6" opacity="0.8"/>
<line x1="339.3" y1="114.26" x2="496.50" y2="114.26" stroke="#999" stroke-width="0.6" opacity="0.8"/>
<line x1="339.3" y1="122.98" x2="496.50" y2="122.98" stroke="#999" stroke-width="0.6" opacity="0.8"/>
<line x1="339.3" y1="131.70" x2="496.50" y2="131.70" stroke="#999" stroke-width="0.6" opacity="0.8"/>
<line x1="339.3" y1="140.42" x2="496.50" y2="140.42" stroke="#999" stroke-width="0.6" opacity="0.8"/>
<line x1="339.3" y1="149.14" x2="496.50" y2="149.14" stroke="#999" stroke-width="0.6" opacity="0.8"/>
<line x1="339.3" y1="157.86" x2="496.50" y2="157.86" stroke="#999" stroke-width="0.6" opacity="0.8"/>
<line x1="339.3" y1="166.58" x2="496.50" y2="166.58" stroke="#999" stroke-width="0.6" opacity="0.8"/>
<line x1="339.3" y1="175.30" x2="496.50" y2="175.30" stroke="#999" stroke-width="0.6" opacity="0.8"/>
<line x1="339.3" y1="184.02" x2="496.50" y2="184.02" stroke="#999" stroke-width="0.6" opacity="0.8"/>
<line x1="339.3" y1="192.74" x2="496.50" y2="192.74" stroke="#999" stroke-width="0.6" opacity="0.8"/>
<line x1="339.3" y1="201.46" x2="496.50" y2="201.46" stroke="#999" stroke-width="0.6" opacity="0.8"/>
<line x1="339.3" y1="210.18" x2="496.50" y2="210.18" stroke="#999" stroke-width="0.6" opacity="0.8"/>
<line x1="339.3" y1="218.90" x2="496.50" y2="218.90" stroke="#999" stroke-width="0.6" opacity="0.8"/>
<line x1="339.3" y1="227.62" x2="496.50" y2="227.62" stroke="#999" stroke-width="0.6" opacity="0.8"/>
<line x1="339.3" y1="236.34" x2="496.50" y2="236.34" stroke="#999" stroke-width="0.6" opacity="0.8"/>
<line x1="339.3" y1="245.06" x2="496.50" y2="245.06" stroke="#999" stroke-width="0.6" opacity="0.8"/>
<line x1="339.3" y1="253.78" x2="496.50" y2="253.78" stroke="#999" stroke-width="0.6" opacity="0.8"/>
<line x1="339.3" y1="262.50" x2="496.50" y2="262.50" stroke="#999" stroke-width="0.6" opacity="0.8"/>
<line x1="339.3" y1="271.22" x2="496.50" y2="271.22" stroke="#999" stroke-width="0.6" opacity="0.8"/>
<line x1="339.3" y1="279.94" x2="496.50" y2="279.94" stroke="#999" stroke-width="0.6" opacity="0.8"/>
<line x1="339.3" y1="288.66" x2="496.50" y2="288.66" stroke="#999" stroke-width="0.6" opacity="0.8"/>
<text x="499.9" y="51.11" font-size="6.3" stroke="#222" stroke-width="0.04" textLength="16.826015625" lengthAdjust="spacingAndGlyphs" fill="#222" >CCR7</text>
<text x="499.9" y="59.83" font-size="6.3" stroke="#222" stroke-width="0.04" textLength="16.826015625" lengthAdjust="spacingAndGlyphs" fill="#222" >CCR9</text>
<text x="499.9" y="68.55" font-size="6.3" stroke="#222" stroke-width="0.04" textLength="19.237060546875" lengthAdjust="spacingAndGlyphs" fill="#222" >CCL26</text>
<text x="499.9" y="77.27000000000001" font-size="6.3" stroke="#222" stroke-width="0.04" textLength="16.826015625" lengthAdjust="spacingAndGlyphs" fill="#222" >CCR1</text>
<text x="499.9" y="85.99000000000001" font-size="6.3" stroke="#222" stroke-width="0.04" textLength="16.826015625" lengthAdjust="spacingAndGlyphs" fill="#222" >CCR6</text>
<text x="499.9" y="94.71000000000001" font-size="6.3" stroke="#222" stroke-width="0.04" textLength="16.826015625" lengthAdjust="spacingAndGlyphs" fill="#222" >CCR2</text>
<text x="499.9" y="103.43" font-size="6.3" stroke="#222" stroke-width="0.04" textLength="16.826015625" lengthAdjust="spacingAndGlyphs" fill="#222" >CCR3</text>
<text x="499.9" y="112.15" font-size="6.3" stroke="#222" stroke-width="0.04" textLength="19.237060546875" lengthAdjust="spacingAndGlyphs" fill="#222" >CCL11</text>
<text x="499.9" y="120.87" font-size="6.3" stroke="#222" stroke-width="0.04" textLength="19.237060546875" lengthAdjust="spacingAndGlyphs" fill="#222" >CCL14</text>
<text x="499.9" y="129.59" font-size="6.3" stroke="#222" stroke-width="0.04" textLength="16.826015625" lengthAdjust="spacingAndGlyphs" fill="#222" >CCR8</text>
<text x="499.9" y="138.31" font-size="6.3" stroke="#222" stroke-width="0.04" textLength="15.8000390625" lengthAdjust="spacingAndGlyphs" fill="#222" >CCL2</text>
<text x="499.9" y="147.03" font-size="6.3" stroke="#222" stroke-width="0.04" textLength="18.887021484375" lengthAdjust="spacingAndGlyphs" fill="#222" >ICAM3</text>
<text x="499.9" y="155.75" font-size="6.3" stroke="#222" stroke-width="0.04" textLength="17.5140234375" lengthAdjust="spacingAndGlyphs" fill="#222" >CAPG</text>
<text x="499.9" y="164.47000000000003" font-size="6.3" stroke="#222" stroke-width="0.04" textLength="17.85802734375" lengthAdjust="spacingAndGlyphs" fill="#222" >ITGA4</text>
<text x="499.9" y="173.19" font-size="6.3" stroke="#222" stroke-width="0.04" textLength="15.8000390625" lengthAdjust="spacingAndGlyphs" fill="#222" >CD14</text>
<text x="499.9" y="181.91" font-size="6.3" stroke="#222" stroke-width="0.04" textLength="16.835068359375" lengthAdjust="spacingAndGlyphs" fill="#222" >IL36G</text>
<text x="499.9" y="190.63000000000002" font-size="6.3" stroke="#222" stroke-width="0.04" textLength="19.92205078125" lengthAdjust="spacingAndGlyphs" fill="#222" >CXCL3</text>
<text x="499.9" y="199.35000000000002" font-size="6.3" stroke="#222" stroke-width="0.04" textLength="12.713056640625" lengthAdjust="spacingAndGlyphs" fill="#222" >IL1B</text>
<text x="499.9" y="208.07000000000002" font-size="6.3" stroke="#222" stroke-width="0.04" textLength="17.85802734375" lengthAdjust="spacingAndGlyphs" fill="#222" >ITGA6</text>
<text x="499.9" y="216.79000000000002" font-size="6.3" stroke="#222" stroke-width="0.04" textLength="17.5140234375" lengthAdjust="spacingAndGlyphs" fill="#222" >MAEA</text>
<text x="499.9" y="225.51000000000002" font-size="6.3" stroke="#222" stroke-width="0.04" textLength="19.237060546875" lengthAdjust="spacingAndGlyphs" fill="#222" >CCL23</text>
<text x="499.9" y="234.23000000000002" font-size="6.3" stroke="#222" stroke-width="0.04" textLength="12.36" lengthAdjust="spacingAndGlyphs" fill="#222" >HBZ</text>
<text x="499.9" y="242.95000000000002" font-size="6.3" stroke="#222" stroke-width="0.04" textLength="11.3340234375" lengthAdjust="spacingAndGlyphs" fill="#222" >PF4</text>
<text x="499.9" y="251.67000000000002" font-size="6.3" stroke="#222" stroke-width="0.04" textLength="19.92205078125" lengthAdjust="spacingAndGlyphs" fill="#222" >CXCL7</text>
<text x="499.9" y="260.39" font-size="6.3" stroke="#222" stroke-width="0.04" textLength="18.887021484375" lengthAdjust="spacingAndGlyphs" fill="#222" >ICAM4</text>
<text x="499.9" y="269.11" font-size="6.3" stroke="#222" stroke-width="0.04" textLength="10.63998046875" lengthAdjust="spacingAndGlyphs" fill="#222" >MIF</text>
<text x="499.9" y="277.83000000000004" font-size="6.3" stroke="#222" stroke-width="0.04" textLength="15.8000390625" lengthAdjust="spacingAndGlyphs" fill="#222" >CCL5</text>
<text x="499.9" y="286.55" font-size="6.3" stroke="#222" stroke-width="0.04" textLength="14.758974609375" lengthAdjust="spacingAndGlyphs" fill="#222" >MMD</text>
<text x="499.9" y="295.27" font-size="6.3" stroke="#222" stroke-width="0.04" textLength="18.887021484375" lengthAdjust="spacingAndGlyphs" fill="#222" >ICAM2</text>
<rect x="339.3" y="34.8" width="78.60" height="7" fill="#21c6d4"/>
<rect x="417.90" y="34.8" width="78.60" height="7" fill="#f4877f"/>
<path d="M378.6,34.8 V31.7 H404.8 V34.8 M352.4,34.8 V30.2 H391.7 V31.7 M457.2,34.8 V29.2 H483.4 V34.8 M431,34.8 V25.4 H470.3 V29.2 M372,30.2 V14 H450.6 V25.4" fill="none" stroke="#6a6a6a" stroke-width="0.65"/>
<defs><linearGradient id="rdylbu" x1="0" y1="0" x2="0" y2="1">
<stop offset="0" stop-color="#d73027"/><stop offset="0.167" stop-color="#fc8d59"/><stop offset="0.333" stop-color="#fee090"/>
<stop offset="0.5" stop-color="#ffffbf"/><stop offset="0.667" stop-color="#e0f3f8"/><stop offset="0.833" stop-color="#91bfdb"/><stop offset="1" stop-color="#4575b4"/></linearGradient></defs>
<rect x="283" y="84.8" width="5.5" height="94.8" fill="url(#rdylbu)"/>
<text x="291.2" y="99.8" font-size="6.5" stroke="#262626" stroke-width="0.09" textLength="4.0" lengthAdjust="spacingAndGlyphs" fill="#262626" >4</text>
<text x="291.2" y="119.3" font-size="6.5" stroke="#262626" stroke-width="0.09" textLength="4.0" lengthAdjust="spacingAndGlyphs" fill="#262626" >2</text>
<text x="291.2" y="138.8" font-size="6.5" stroke="#262626" stroke-width="0.09" textLength="4.0" lengthAdjust="spacingAndGlyphs" fill="#262626" >0</text>
<text x="291.2" y="158.5" font-size="6.5" stroke="#262626" stroke-width="0.09" textLength="7.7" lengthAdjust="spacingAndGlyphs" fill="#262626" >−2</text>
<text x="291.2" y="178.10000000000002" font-size="6.5" stroke="#262626" stroke-width="0.09" textLength="7.7" lengthAdjust="spacingAndGlyphs" fill="#262626" >−4</text>
<path d="M339.3,48.9 H334.9 V57.6 H339.3 M339.3,66.3 H337.4 V75.0 H339.3 M339.3,83.7 H336.5 V92.5 H339.3 M339.3,101.2 H336.8 V109.9 H339.3 M339.3,118.6 H336.5 V127.3 H339.3 M336.8,105.5 H335.0 V123.0 H336.5 M336.5,88.1 H333.4 V114.3 H335.0 M337.4,70.7 H331.5 V101.2 H333.4 M334.9,53.2 H328.2 V85.9 H331.5 M339.3,144.8 H336.5 V153.5 H339.3 M339.3,162.2 H337.0 V170.9 H339.3 M336.5,149.1 H334.0 V166.6 H337.0 M339.3,179.7 H336.8 V188.4 H339.3 M339.3,205.8 H337.5 V214.5 H339.3 M339.3,197.1 H336.0 V210.2 H337.5 M336.8,184.0 H334.5 V203.6 H336.0 M334.0,157.9 H331.5 V193.8 H334.5 M339.3,136.1 H328.7 V175.8 H331.5 M339.3,240.7 H337.5 V249.4 H339.3 M339.3,232.0 H334.5 V245.1 H337.5 M339.3,258.1 H336.5 V266.9 H339.3 M339.3,284.3 H337.5 V293.0 H339.3 M339.3,275.6 H335.5 V288.7 H337.5 M336.5,262.5 H333.0 V282.1 H335.5 M334.5,238.5 H330.0 V272.3 H333.0 M339.3,223.3 H325.0 V255.4 H330.0 M328.7,156.0 H321.8 V239.3 H325.0 M328.2,69.6 H304.5 V197.6 H321.8" fill="none" stroke="#6a6a6a" stroke-width="0.65"/>
<rect x="339.7" y="299.8" width="76.1" height="1.4" fill="#333"/>
<rect x="419.3" y="299.8" width="76.8" height="1.4" fill="#333"/>
<text x="384.7" y="313.3" font-size="9.6" stroke="#222" stroke-width="0.12" text-anchor="middle" textLength="10.6" lengthAdjust="spacingAndGlyphs" fill="#222" >WT</text>
<text x="456.4" y="313.3" font-size="9.6" stroke="#222" stroke-width="0.12" text-anchor="middle" textLength="9.3" lengthAdjust="spacingAndGlyphs" fill="#222" >UA</text>
</svg></body></html>
